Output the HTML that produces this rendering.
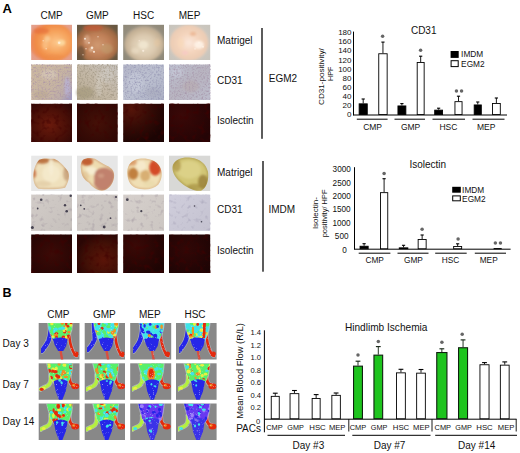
<!DOCTYPE html>
<html><head><meta charset="utf-8"><style>
html,body{margin:0;padding:0;background:#fff;}
body{width:520px;height:453px;overflow:hidden;}
svg{display:block;font-family:"Liberation Sans", sans-serif;}
</style></head><body>
<svg width="520" height="453" viewBox="0 0 520 453">
<defs>
<filter id="blur1" x="-20%" y="-20%" width="140%" height="140%"><feGaussianBlur stdDeviation="1.2"/></filter>
<filter id="mb" x="-20%" y="-20%" width="140%" height="140%"><feGaussianBlur stdDeviation="0.55"/></filter>
<filter id="tm" x="0" y="0" width="100%" height="100%"><feTurbulence type="fractalNoise" baseFrequency="0.3" numOctaves="2" seed="3"/><feColorMatrix type="matrix" values="0 0 0 0 1  0 0 0 0 0.95  0 0 0 0 0.85  1.5 0 0 0 -0.92"/><feGaussianBlur stdDeviation="0.6"/></filter>
<filter id="ti" x="0" y="0" width="100%" height="100%"><feTurbulence type="fractalNoise" baseFrequency="0.2" numOctaves="2" seed="7"/><feColorMatrix type="matrix" values="0 0 0 0 0.05  0 0 0 0 0  0 0 0 0 0  2.0 0 0 0 -1.0"/></filter>
<filter id="blur03" x="-20%" y="-20%" width="140%" height="140%"><feGaussianBlur stdDeviation="0.4"/></filter>
<filter id="md" x="-10%" y="-10%" width="120%" height="120%"><feTurbulence type="fractalNoise" baseFrequency="0.35" numOctaves="1" seed="4" result="t"/><feDisplacementMap in="SourceGraphic" in2="t" scale="1.8" xChannelSelector="R" yChannelSelector="G" result="d"/><feGaussianBlur in="d" stdDeviation="0.6"/></filter>
<filter id="mbb" x="-10%" y="-10%" width="120%" height="120%"><feGaussianBlur stdDeviation="0.55"/></filter>
<filter id="tc0" x="0" y="0" width="100%" height="100%"><feTurbulence type="fractalNoise" baseFrequency="0.55" numOctaves="2" seed="11"/><feColorMatrix type="matrix" values="0 0 0 0 0.42  0 0 0 0 0.3  0 0 0 0 0.38  2.2 0 0 0 -1.0"/><feGaussianBlur stdDeviation="0.35"/></filter>
<filter id="tc1" x="0" y="0" width="100%" height="100%"><feTurbulence type="fractalNoise" baseFrequency="0.55" numOctaves="2" seed="12"/><feColorMatrix type="matrix" values="0 0 0 0 0.35  0 0 0 0 0.3  0 0 0 0 0.22  2.2 0 0 0 -1.0"/><feGaussianBlur stdDeviation="0.35"/></filter>
<filter id="tc2" x="0" y="0" width="100%" height="100%"><feTurbulence type="fractalNoise" baseFrequency="0.55" numOctaves="2" seed="13"/><feColorMatrix type="matrix" values="0 0 0 0 0.3  0 0 0 0 0.3  0 0 0 0 0.45  2.2 0 0 0 -1.0"/><feGaussianBlur stdDeviation="0.35"/></filter>
<filter id="tc3" x="0" y="0" width="100%" height="100%"><feTurbulence type="fractalNoise" baseFrequency="0.55" numOctaves="2" seed="14"/><feColorMatrix type="matrix" values="0 0 0 0 0.38  0 0 0 0 0.3  0 0 0 0 0.4  2.2 0 0 0 -1.0"/><feGaussianBlur stdDeviation="0.35"/></filter>
<filter id="tc4" x="0" y="0" width="100%" height="100%"><feTurbulence type="fractalNoise" baseFrequency="0.22" numOctaves="2" seed="15"/><feColorMatrix type="matrix" values="0 0 0 0 0.3  0 0 0 0 0.25  0 0 0 0 0.3  1.3 0 0 0 -0.72"/><feGaussianBlur stdDeviation="0.35"/></filter>
<filter id="tc5" x="0" y="0" width="100%" height="100%"><feTurbulence type="fractalNoise" baseFrequency="0.22" numOctaves="2" seed="16"/><feColorMatrix type="matrix" values="0 0 0 0 0.3  0 0 0 0 0.25  0 0 0 0 0.3  1.3 0 0 0 -0.72"/><feGaussianBlur stdDeviation="0.35"/></filter>
<filter id="tc6" x="0" y="0" width="100%" height="100%"><feTurbulence type="fractalNoise" baseFrequency="0.22" numOctaves="2" seed="17"/><feColorMatrix type="matrix" values="0 0 0 0 0.3  0 0 0 0 0.25  0 0 0 0 0.3  1.3 0 0 0 -0.72"/><feGaussianBlur stdDeviation="0.35"/></filter>
<filter id="tc7" x="0" y="0" width="100%" height="100%"><feTurbulence type="fractalNoise" baseFrequency="0.22" numOctaves="2" seed="18"/><feColorMatrix type="matrix" values="0 0 0 0 0.3  0 0 0 0 0.28  0 0 0 0 0.4  1.3 0 0 0 -0.72"/><feGaussianBlur stdDeviation="0.35"/></filter>
<filter id="mn" x="0" y="0" width="100%" height="100%"><feTurbulence type="fractalNoise" baseFrequency="0.9" numOctaves="1" seed="9" result="t"/><feColorMatrix in="t" type="matrix" values="0 0 0 0 0.9  0 0 0 0 0.95  0 0 0 0 1  2.0 0 0 0 -1.3" result="w"/><feComposite in="w" in2="SourceAlpha" operator="in" result="wn"/><feMerge><feMergeNode in="SourceGraphic"/><feMergeNode in="wn"/></feMerge></filter>
<filter id="blur05" x="-20%" y="-20%" width="140%" height="140%"><feGaussianBlur stdDeviation="0.6"/></filter>
<radialGradient id="m1" cx="50%" cy="50%" r="70%"><stop offset="0" stop-color="#e89a7c"/><stop offset="1" stop-color="#e4a08c"/></radialGradient>
<radialGradient id="m2" cx="50%" cy="50%" r="70%"><stop offset="0" stop-color="#7e6448"/><stop offset="1" stop-color="#665640"/></radialGradient>
<radialGradient id="m3" cx="50%" cy="50%" r="70%"><stop offset="0" stop-color="#a49c8c"/><stop offset="1" stop-color="#8e8878"/></radialGradient>
<radialGradient id="m4" cx="50%" cy="50%" r="70%"><stop offset="0" stop-color="#d4cec6"/><stop offset="1" stop-color="#c8c4bc"/></radialGradient>
<radialGradient id="p1" cx="60%" cy="50%" r="55%"><stop offset="0" stop-color="#fcc68a"/><stop offset="0.5" stop-color="#f6a45e"/><stop offset="0.85" stop-color="#f08a46"/><stop offset="1" stop-color="#ec8a5a"/></radialGradient>
<radialGradient id="p2" cx="50%" cy="55%" r="55%"><stop offset="0" stop-color="#d09a72"/><stop offset="0.5" stop-color="#c08058"/><stop offset="0.85" stop-color="#a06a44"/><stop offset="1" stop-color="#7e5c40"/></radialGradient>
<radialGradient id="p3" cx="50%" cy="55%" r="55%"><stop offset="0" stop-color="#e8dcc4"/><stop offset="0.5" stop-color="#dccab0"/><stop offset="0.85" stop-color="#c4b094"/><stop offset="1" stop-color="#aca090"/></radialGradient>
<radialGradient id="p4" cx="50%" cy="50%" r="55%"><stop offset="0" stop-color="#fbe8dc"/><stop offset="0.5" stop-color="#f4d4bc"/><stop offset="0.85" stop-color="#ecccb4"/><stop offset="1" stop-color="#dcd0c6"/></radialGradient>
<linearGradient id="c1" x1="0" y1="0.2" x2="1" y2="0.8"><stop offset="0" stop-color="#ccb8a0"/><stop offset="0.6" stop-color="#c6b4a2"/><stop offset="0.85" stop-color="#bcaca8"/><stop offset="1" stop-color="#a49cbc"/></linearGradient>
<linearGradient id="c2" x1="0" y1="1" x2="1" y2="0"><stop offset="0" stop-color="#b4a890"/><stop offset="0.5" stop-color="#c4b8a6"/><stop offset="1" stop-color="#c4c0bc"/></linearGradient>
<linearGradient id="c3" x1="0" y1="0" x2="1" y2="1"><stop offset="0" stop-color="#b4b6c8"/><stop offset="0.5" stop-color="#bcc0d0"/><stop offset="1" stop-color="#acb0c4"/></linearGradient>
<linearGradient id="c4" x1="0" y1="0" x2="1" y2="1"><stop offset="0" stop-color="#bcc0d0"/><stop offset="0.5" stop-color="#b8b4c0"/><stop offset="1" stop-color="#bcbccc"/></linearGradient>
<radialGradient id="i1" cx="45%" cy="55%" r="70%"><stop offset="0" stop-color="#6a1a0c"/><stop offset="0.6" stop-color="#4a0f07"/><stop offset="1" stop-color="#320806"/></radialGradient>
<radialGradient id="i2" cx="50%" cy="50%" r="70%"><stop offset="0" stop-color="#451007"/><stop offset="1" stop-color="#2c0704"/></radialGradient>
<radialGradient id="i3" cx="20%" cy="15%" r="90%"><stop offset="0" stop-color="#551409"/><stop offset="0.6" stop-color="#300a05"/><stop offset="1" stop-color="#1c0403"/></radialGradient>
<radialGradient id="i4" cx="30%" cy="30%" r="80%"><stop offset="0" stop-color="#3a0807"/><stop offset="1" stop-color="#240405"/></radialGradient>
<radialGradient id="j1" cx="50%" cy="50%" r="70%"><stop offset="0" stop-color="#3c0a06"/><stop offset="1" stop-color="#240504"/></radialGradient>
<radialGradient id="j2" cx="65%" cy="65%" r="70%"><stop offset="0" stop-color="#5a1408"/><stop offset="0.6" stop-color="#421006"/><stop offset="1" stop-color="#2a0604"/></radialGradient>
<radialGradient id="j3" cx="30%" cy="30%" r="80%"><stop offset="0" stop-color="#3a0906"/><stop offset="1" stop-color="#1e0403"/></radialGradient>
<radialGradient id="j4" cx="40%" cy="40%" r="80%"><stop offset="0" stop-color="#320706"/><stop offset="1" stop-color="#1c0404"/></radialGradient>
<linearGradient id="d1" x1="0" y1="0" x2="1" y2="1"><stop offset="0" stop-color="#d2ccc8"/><stop offset="1" stop-color="#c6c0bc"/></linearGradient>
<linearGradient id="d2" x1="0" y1="0" x2="1" y2="1"><stop offset="0" stop-color="#d0cac6"/><stop offset="1" stop-color="#c8c2be"/></linearGradient>
<linearGradient id="d3" x1="0" y1="0" x2="1" y2="1"><stop offset="0" stop-color="#d6d0cc"/><stop offset="1" stop-color="#ccc6c2"/></linearGradient>
<linearGradient id="d4" x1="0" y1="0" x2="1" y2="1"><stop offset="0" stop-color="#d0cedc"/><stop offset="1" stop-color="#c4c2d0"/></linearGradient>
<clipPath id="mc_0"><rect x="0" y="0" width="40.80" height="35.2"/></clipPath>
<clipPath id="mc_1"><rect x="0" y="0" width="40.70" height="35.2"/></clipPath>
<clipPath id="mc_2"><rect x="0" y="0" width="40.80" height="35.2"/></clipPath>
<clipPath id="mc_3"><rect x="0" y="0" width="41.20" height="35.2"/></clipPath>
<clipPath id="bc0"><path d="M8,4 C12,2 18,3 23,3 C28,5 33,10 37,16 C39,21 37,27 34,32 C26,34 16,34 7,33 C4,31 2,26 2,21 C2,15 4,8 8,4 Z"/></clipPath>
<clipPath id="bc1"><path d="M6,4 C9,2 14,2 18,3 C22,5 25,8 30,10 C35,12 38,16 37,22 C36,28 32,34 25,35 C20,35 15,31 12,27 C8,25 4,20 4,14 C3,10 4,6 6,4 Z"/></clipPath>
<clipPath id="bc2"><path d="M4,16 C4,9 9,4 16,3 C24,2 32,4 36,10 C40,16 39,24 35,29 C30,34 20,35 12,32 C6,29 4,23 4,16 Z"/></clipPath>
<clipPath id="bc3"><path d="M4,9 C7,3 14,1 22,2 C31,3 37,8 39,16 C40,24 38,32 32,35 C26,36 18,32 12,27 C6,22 2,15 4,9 Z"/></clipPath>
</defs>
<rect x="31.2" y="24.8" width="40.80" height="35.20" fill="url(#m1)" />
<rect x="77.0" y="24.8" width="40.70" height="35.20" fill="url(#m2)" />
<rect x="123.2" y="24.8" width="40.80" height="35.20" fill="url(#m3)" />
<rect x="169.0" y="24.8" width="41.20" height="35.20" fill="url(#m4)" />
<rect x="31.2" y="64.5" width="40.80" height="35.50" fill="url(#c1)" />
<rect x="77.0" y="64.5" width="40.70" height="35.50" fill="url(#c2)" />
<rect x="123.2" y="64.5" width="40.80" height="35.50" fill="url(#c3)" />
<rect x="169.0" y="64.5" width="41.20" height="35.50" fill="url(#c4)" />
<rect x="31.2" y="103.8" width="40.80" height="38.20" fill="url(#i1)" />
<rect x="77.0" y="103.8" width="40.70" height="38.20" fill="url(#i2)" />
<rect x="123.2" y="103.8" width="40.80" height="38.20" fill="url(#i3)" />
<rect x="169.0" y="103.8" width="41.20" height="38.20" fill="url(#i4)" />
<rect x="31.2" y="155.7" width="40.80" height="35.30" fill="#e8e8e8" />
<rect x="77.0" y="155.7" width="40.70" height="35.30" fill="#e6e6e6" />
<rect x="123.2" y="155.7" width="40.80" height="35.30" fill="#f2f2f0" />
<rect x="169.0" y="155.7" width="41.20" height="35.30" fill="#d8d8d6" />
<rect x="31.2" y="194.6" width="40.80" height="36.20" fill="url(#d1)" />
<rect x="77.0" y="194.6" width="40.70" height="36.20" fill="url(#d2)" />
<rect x="123.2" y="194.6" width="40.80" height="36.20" fill="url(#d3)" />
<rect x="169.0" y="194.6" width="41.20" height="36.20" fill="url(#d4)" />
<rect x="31.2" y="234.5" width="40.80" height="38.50" fill="url(#j1)" />
<rect x="77.0" y="234.5" width="40.70" height="38.50" fill="url(#j2)" />
<rect x="123.2" y="234.5" width="40.80" height="38.50" fill="url(#j3)" />
<rect x="169.0" y="234.5" width="41.20" height="38.50" fill="url(#j4)" />
<g transform="translate(31.2,24.8)" clip-path="url(#mc_0)">
<ellipse cx="20.5" cy="17.5" rx="22.5" ry="19.5" fill="url(#p1)" filter="url(#blur1)"/>
<g filter="url(#blur1)">
<ellipse cx="30" cy="18" rx="4" ry="3" fill="#fde0a8" opacity="0.8"/>
<ellipse cx="14" cy="20" rx="3" ry="5" fill="#fcc890" opacity="0.6"/>
<ellipse cx="10" cy="6" rx="8" ry="3" fill="#e46a36" opacity="0.6"/>
<ellipse cx="22" cy="32" rx="10" ry="2.5" fill="#ee8c48" opacity="0.5"/>
<ellipse cx="16" cy="14" rx="3" ry="3" fill="#fcd8a8" opacity="0.6"/>
</g></g>
<g transform="translate(77.0,24.8)" clip-path="url(#mc_1)">
<ellipse cx="20.5" cy="18.5" rx="22" ry="19.5" fill="url(#p2)" filter="url(#blur1)"/>
<g filter="url(#blur1)">
<ellipse cx="10" cy="15" rx="3" ry="5" fill="#e0b494" opacity="0.6"/>
<ellipse cx="14" cy="25" rx="2" ry="1.5" fill="#f4dcc0" opacity="0.7"/>
<ellipse cx="16" cy="3" rx="10" ry="3" fill="#c05a38" opacity="0.8"/>
<ellipse cx="30" cy="24" rx="6" ry="5" fill="#c0a070" opacity="0.5"/>
<ellipse cx="4" cy="28" rx="4" ry="7" fill="#6a4e38" opacity="0.7"/>
</g></g>
<g transform="translate(123.2,24.8)" clip-path="url(#mc_2)">
<ellipse cx="21" cy="19" rx="20" ry="18" fill="url(#p3)" filter="url(#blur1)"/>
<g filter="url(#blur1)">
<ellipse cx="20" cy="20" rx="5" ry="4" fill="#f4ead4" opacity="0.7"/>
<ellipse cx="34" cy="18" rx="3" ry="4" fill="#e8c8a0" opacity="0.5"/>
<ellipse cx="12" cy="26" rx="4" ry="3" fill="#f0e4cc" opacity="0.5"/>
</g></g>
<g transform="translate(169.0,24.8)" clip-path="url(#mc_3)">
<ellipse cx="20" cy="18" rx="19.5" ry="18" fill="url(#p4)" filter="url(#blur1)"/>
<g filter="url(#blur1)">
<ellipse cx="30" cy="20" rx="5" ry="4" fill="#fff4ea" opacity="0.85"/>
<ellipse cx="16" cy="28" rx="3" ry="2" fill="#f8c8c8" opacity="0.7"/>
<ellipse cx="24" cy="9" rx="3" ry="2" fill="#e8a880" opacity="0.6"/>
<ellipse cx="12" cy="18" rx="3" ry="5" fill="#f8d8b8" opacity="0.6"/>
</g></g>
<g filter="url(#blur1)">
<ellipse cx="67.2" cy="86.5" rx="3" ry="10" fill="#b8b0d0" opacity="0.9"/>
<ellipse cx="49.2" cy="74.5" rx="8" ry="5" fill="#d8ccbc" opacity="0.6"/>
<ellipse cx="41.2" cy="94.5" rx="8" ry="4" fill="#b8a690" opacity="0.5"/>
<ellipse cx="85.0" cy="92.5" rx="9" ry="6" fill="#a49878" opacity="0.6"/>
<ellipse cx="107.0" cy="74.5" rx="6" ry="8" fill="#d0ccc4" opacity="0.6"/>
<ellipse cx="99.0" cy="84.5" rx="3" ry="12" fill="#d6d0c6" opacity="0.5"/>
<ellipse cx="135.2" cy="82.5" rx="8" ry="10" fill="#c8ccda" opacity="0.6"/>
<ellipse cx="153.2" cy="92.5" rx="8" ry="5" fill="#a8aabc" opacity="0.5"/>
<ellipse cx="191.0" cy="86.5" rx="8" ry="6" fill="#b8a8ac" opacity="0.5"/>
<ellipse cx="177.0" cy="72.5" rx="6" ry="5" fill="#c8cad8" opacity="0.6"/>
</g>
<g filter="url(#blur03)">
<circle cx="85" cy="38.8" r="1.0" fill="#fff4e8" opacity="0.8"/>
<circle cx="89" cy="42.8" r="0.9" fill="#fff4e8" opacity="0.7"/>
<circle cx="92" cy="47.8" r="1.3" fill="#fff4e8" opacity="0.85"/>
<circle cx="94" cy="51.8" r="1.1" fill="#fff4e8" opacity="0.8"/>
<circle cx="86" cy="48.8" r="0.8" fill="#fff4e8" opacity="0.6"/>
<circle cx="98" cy="36.8" r="0.8" fill="#fff4e8" opacity="0.5"/>
<circle cx="103" cy="44.8" r="0.8" fill="#fff4e8" opacity="0.5"/>
<circle cx="83" cy="54.8" r="0.8" fill="#fff4e8" opacity="0.5"/>
<circle cx="59.2" cy="42.8" r="1.3" fill="#fff4e8" opacity="0.8"/>
<circle cx="43.2" cy="40.8" r="0.8" fill="#fff4e8" opacity="0.5"/>
<circle cx="46.2" cy="48.8" r="0.8" fill="#fff4e8" opacity="0.5"/>
<circle cx="143.2" cy="50.8" r="1.1" fill="#fff4e8" opacity="0.7"/>
<circle cx="139.2" cy="40.8" r="0.8" fill="#fff4e8" opacity="0.5"/>
<circle cx="199" cy="42.8" r="1.0" fill="#fff4e8" opacity="0.7"/>
<circle cx="203" cy="46.8" r="1.0" fill="#fff4e8" opacity="0.7"/>
<circle cx="195" cy="48.8" r="0.9" fill="#fff4e8" opacity="0.6"/>
</g>
<rect x="31.2" y="64.5" width="40.80" height="35.50" fill="#000" filter="url(#tc0)"/>
<rect x="31.2" y="103.8" width="40.80" height="38.20" fill="#000" filter="url(#ti)"/>
<rect x="31.2" y="194.6" width="40.80" height="36.20" fill="#000" filter="url(#tc4)"/>
<rect x="31.2" y="234.5" width="40.80" height="38.50" fill="#000" filter="url(#ti)"/>
<rect x="77.0" y="64.5" width="40.70" height="35.50" fill="#000" filter="url(#tc1)"/>
<rect x="77.0" y="103.8" width="40.70" height="38.20" fill="#000" filter="url(#ti)"/>
<rect x="77.0" y="194.6" width="40.70" height="36.20" fill="#000" filter="url(#tc5)"/>
<rect x="77.0" y="234.5" width="40.70" height="38.50" fill="#000" filter="url(#ti)"/>
<rect x="123.2" y="64.5" width="40.80" height="35.50" fill="#000" filter="url(#tc2)"/>
<rect x="123.2" y="103.8" width="40.80" height="38.20" fill="#000" filter="url(#ti)"/>
<rect x="123.2" y="194.6" width="40.80" height="36.20" fill="#000" filter="url(#tc6)"/>
<rect x="123.2" y="234.5" width="40.80" height="38.50" fill="#000" filter="url(#ti)"/>
<rect x="169.0" y="64.5" width="41.20" height="35.50" fill="#000" filter="url(#tc3)"/>
<rect x="169.0" y="103.8" width="41.20" height="38.20" fill="#000" filter="url(#ti)"/>
<rect x="169.0" y="194.6" width="41.20" height="36.20" fill="#000" filter="url(#tc7)"/>
<rect x="169.0" y="234.5" width="41.20" height="38.50" fill="#000" filter="url(#ti)"/>
<g transform="translate(31.2,155.7)">
<path d="M8,4 C12,2 18,3 23,3 C28,5 33,10 37,16 C39,21 37,27 34,32 C26,34 16,34 7,33 C4,31 2,26 2,21 C2,15 4,8 8,4 Z" fill="#efe0bc" filter="url(#blur03)"/>
<g clip-path="url(#bc0)"><g filter="url(#blur1)">
<ellipse cx="11" cy="5" rx="7" ry="3" fill="#b86a38" opacity="0.9"/>
<ellipse cx="26" cy="4" rx="5" ry="2" fill="#c88a58" opacity="0.6"/>
<ellipse cx="3" cy="18" rx="2" ry="4" fill="#c86a40" opacity="0.8"/>
<ellipse cx="20" cy="18" rx="9" ry="9" fill="#f6ecd0" opacity="0.7"/>
<ellipse cx="35" cy="18" rx="3" ry="7" fill="#b88860" opacity="0.6"/>
<ellipse cx="12" cy="28" rx="8" ry="3" fill="#e0c8a0" opacity="0.6"/>
<ellipse cx="20" cy="12" rx="2" ry="8" fill="#f8f0d8" opacity="0.6"/>
<path d="M8,4 C12,2 18,3 23,3 C28,5 33,10 37,16 C39,21 37,27 34,32 C26,34 16,34 7,33 C4,31 2,26 2,21 C2,15 4,8 8,4 Z" fill="none" stroke="#b07040" stroke-width="1.6" opacity="0.55"/>
</g></g></g>
<g transform="translate(77.0,155.7)">
<path d="M6,4 C9,2 14,2 18,3 C22,5 25,8 30,10 C35,12 38,16 37,22 C36,28 32,34 25,35 C20,35 15,31 12,27 C8,25 4,20 4,14 C3,10 4,6 6,4 Z" fill="#eedcb0" filter="url(#blur03)"/>
<g clip-path="url(#bc1)"><g filter="url(#blur1)">
<ellipse cx="10" cy="6" rx="6" ry="4" fill="#c0582a" opacity="0.95"/>
<ellipse cx="14" cy="15" rx="6" ry="4" fill="#f8f0d8" opacity="0.8"/>
<ellipse cx="8" cy="20" rx="4" ry="5" fill="#e0c090" opacity="0.6"/>
<path d="M19,15 C24,11 31,11 36,16 C39,22 35,30 29,34 C24,36 19,33 17,28 C18,25 16,20 19,15 Z" fill="#b87260" opacity="0.85"/>
<ellipse cx="24" cy="20" rx="3" ry="2" fill="#d8a890" opacity="0.6"/>
<path d="M6,4 C9,2 14,2 18,3 C22,5 25,8 30,10 C35,12 38,16 37,22 C36,28 32,34 25,35 C20,35 15,31 12,27 C8,25 4,20 4,14 C3,10 4,6 6,4 Z" fill="none" stroke="#b06848" stroke-width="1.6" opacity="0.55"/>
</g></g></g>
<g transform="translate(123.2,155.7)">
<path d="M4,16 C4,9 9,4 16,3 C24,2 32,4 36,10 C40,16 39,24 35,29 C30,34 20,35 12,32 C6,29 4,23 4,16 Z" fill="#f0dfb4" filter="url(#blur03)"/>
<g clip-path="url(#bc2)"><g filter="url(#blur1)">
<ellipse cx="32" cy="12" rx="6" ry="8" fill="#d03a18" opacity="0.9"/>
<ellipse cx="10" cy="18" rx="5" ry="6" fill="#b8702c" opacity="0.85"/>
<ellipse cx="22" cy="20" rx="5" ry="6" fill="#c89048" opacity="0.6"/>
<ellipse cx="9" cy="7" rx="5" ry="3" fill="#d89058" opacity="0.7"/>
<ellipse cx="18" cy="10" rx="5" ry="5" fill="#f8ecd0" opacity="0.8"/>
<ellipse cx="26" cy="28" rx="6" ry="3" fill="#e8d8a8" opacity="0.6"/>
<path d="M4,16 C4,9 9,4 16,3 C24,2 32,4 36,10 C40,16 39,24 35,29 C30,34 20,35 12,32 C6,29 4,23 4,16 Z" fill="none" stroke="#c08050" stroke-width="1.6" opacity="0.55"/>
</g></g></g>
<g transform="translate(169.0,155.7)">
<path d="M4,9 C7,3 14,1 22,2 C31,3 37,8 39,16 C40,24 38,32 32,35 C26,36 18,32 12,27 C6,22 2,15 4,9 Z" fill="#d2c676" filter="url(#blur03)"/>
<g clip-path="url(#bc3)"><g filter="url(#blur1)">
<ellipse cx="20" cy="14" rx="12" ry="9" fill="#e0d68e" opacity="0.7"/>
<ellipse cx="34" cy="26" rx="5" ry="7" fill="#8e7430" opacity="0.7"/>
<ellipse cx="8" cy="10" rx="4" ry="6" fill="#a88c3c" opacity="0.6"/>
<ellipse cx="26" cy="31" rx="8" ry="3" fill="#a08838" opacity="0.6"/>
<path d="M4,9 C7,3 14,1 22,2 C31,3 37,8 39,16 C40,24 38,32 32,35 C26,36 18,32 12,27 C6,22 2,15 4,9 Z" fill="none" stroke="#8a7430" stroke-width="1.6" opacity="0.55"/>
</g></g></g>
<g filter="url(#blur03)">
<circle cx="41.2" cy="199.7" r="1.3" fill="#2e2c3c" opacity="0.85"/>
<circle cx="37.7" cy="208.5" r="0.9" fill="#2e2c3c" opacity="0.85"/>
<circle cx="65.0" cy="205.29999999999998" r="1.2" fill="#2e2c3c" opacity="0.85"/>
<circle cx="66.7" cy="211.2" r="1.3" fill="#2e2c3c" opacity="0.85"/>
<circle cx="70.7" cy="195.79999999999998" r="1.2" fill="#2e2c3c" opacity="0.85"/>
<circle cx="32.4" cy="227.6" r="1.5" fill="#2e2c3c" opacity="0.85"/>
<circle cx="80.75" cy="205.29999999999998" r="0.9" fill="#2e2c3c" opacity="0.85"/>
<circle cx="84.25" cy="208.79999999999998" r="0.9" fill="#2e2c3c" opacity="0.85"/>
<circle cx="110.5" cy="218.2" r="0.9" fill="#2e2c3c" opacity="0.85"/>
<circle cx="104.2" cy="227.0" r="1.4" fill="#2e2c3c" opacity="0.85"/>
<circle cx="116.0" cy="197.0" r="1.1" fill="#2e2c3c" opacity="0.85"/>
<circle cx="127.3" cy="199.7" r="1.4" fill="#2e2c3c" opacity="0.85"/>
<circle cx="141.3" cy="211.2" r="1.1" fill="#2e2c3c" opacity="0.85"/>
<circle cx="194.5" cy="206.0" r="0.8" fill="#2e2c3c" opacity="0.85"/>
<circle cx="201.5" cy="221.7" r="0.8" fill="#2e2c3c" opacity="0.85"/>
</g>
<text x="2.4" y="12.9" font-size="13" text-anchor="start" font-weight="bold" fill="#000" >A</text>
<text x="51.6" y="18.8" font-size="10" text-anchor="middle" font-weight="normal" fill="#111" >CMP</text>
<text x="97.35" y="18.8" font-size="10" text-anchor="middle" font-weight="normal" fill="#111" >GMP</text>
<text x="143.6" y="18.8" font-size="10" text-anchor="middle" font-weight="normal" fill="#111" >HSC</text>
<text x="189.6" y="18.8" font-size="10" text-anchor="middle" font-weight="normal" fill="#111" >MEP</text>
<text x="217" y="44.4" font-size="10" text-anchor="start" font-weight="normal" fill="#111" >Matrigel</text>
<text x="217" y="83.8" font-size="10" text-anchor="start" font-weight="normal" fill="#111" >CD31</text>
<text x="217" y="123.9" font-size="10" text-anchor="start" font-weight="normal" fill="#111" >Isolectin</text>
<text x="217" y="176.3" font-size="10" text-anchor="start" font-weight="normal" fill="#111" >Matrigel</text>
<text x="217" y="213.0" font-size="10" text-anchor="start" font-weight="normal" fill="#111" >CD31</text>
<text x="217" y="253.8" font-size="10" text-anchor="start" font-weight="normal" fill="#111" >Isolectin</text>
<text x="268.8" y="81.7" font-size="10" text-anchor="start" font-weight="normal" fill="#111" >EGM2</text>
<text x="268.5" y="213.0" font-size="10" text-anchor="start" font-weight="normal" fill="#111" >IMDM</text>
<rect x="261" y="28" width="2" height="110.8" fill="#5c5c5c"/>
<rect x="262" y="161" width="2" height="110.7" fill="#5c5c5c"/>
<line x1="353.5" y1="31.6" x2="353.5" y2="115.5" stroke="#000" stroke-width="1"/>
<line x1="353.5" y1="115.0" x2="507" y2="115.0" stroke="#000" stroke-width="1.2"/>
<text x="351.5" y="117.2" font-size="8.0" text-anchor="end" font-weight="normal" fill="#111" >0</text>
<text x="351.5" y="108.08800000000001" font-size="8.0" text-anchor="end" font-weight="normal" fill="#111" >20</text>
<text x="351.5" y="98.976" font-size="8.0" text-anchor="end" font-weight="normal" fill="#111" >40</text>
<text x="351.5" y="89.864" font-size="8.0" text-anchor="end" font-weight="normal" fill="#111" >60</text>
<text x="351.5" y="80.752" font-size="8.0" text-anchor="end" font-weight="normal" fill="#111" >80</text>
<text x="351.5" y="71.64" font-size="8.0" text-anchor="end" font-weight="normal" fill="#111" >100</text>
<text x="351.5" y="62.528000000000006" font-size="8.0" text-anchor="end" font-weight="normal" fill="#111" >120</text>
<text x="351.5" y="53.416000000000004" font-size="8.0" text-anchor="end" font-weight="normal" fill="#111" >140</text>
<text x="351.5" y="44.304" font-size="8.0" text-anchor="end" font-weight="normal" fill="#111" >160</text>
<text x="351.5" y="35.19200000000001" font-size="8.0" text-anchor="end" font-weight="normal" fill="#111" >180</text>
<line x1="363.2" y1="103.4" x2="363.2" y2="99.0" stroke="#000" stroke-width="0.9"/>
<line x1="361.59999999999997" y1="99.0" x2="364.8" y2="99.0" stroke="#000" stroke-width="1.1"/>
<rect x="359.15" y="103.85000000000001" width="8.10" height="10.70" fill="#000" stroke="#000" stroke-width="0.9"/>
<line x1="382.95000000000005" y1="53.3" x2="382.95000000000005" y2="42.1" stroke="#000" stroke-width="0.9"/>
<line x1="381.35" y1="42.1" x2="384.55000000000007" y2="42.1" stroke="#000" stroke-width="1.1"/>
<rect x="378.75" y="53.75" width="8.40" height="60.80" fill="#fff" stroke="#000" stroke-width="0.9"/>
<line x1="401.9" y1="105.5" x2="401.9" y2="103.6" stroke="#000" stroke-width="0.9"/>
<line x1="400.29999999999995" y1="103.6" x2="403.5" y2="103.6" stroke="#000" stroke-width="1.1"/>
<rect x="397.95" y="105.95" width="7.90" height="8.60" fill="#000" stroke="#000" stroke-width="0.9"/>
<line x1="420.675" y1="62.0" x2="420.675" y2="56.2" stroke="#000" stroke-width="0.9"/>
<line x1="419.075" y1="56.2" x2="422.27500000000003" y2="56.2" stroke="#000" stroke-width="1.1"/>
<rect x="417.2" y="62.45" width="6.95" height="52.10" fill="#fff" stroke="#000" stroke-width="0.9"/>
<line x1="438.625" y1="109.7" x2="438.625" y2="108.2" stroke="#000" stroke-width="0.9"/>
<line x1="437.025" y1="108.2" x2="440.225" y2="108.2" stroke="#000" stroke-width="1.1"/>
<rect x="434.7" y="110.15" width="7.85" height="4.40" fill="#000" stroke="#000" stroke-width="0.9"/>
<line x1="458.5" y1="101.2" x2="458.5" y2="96.2" stroke="#000" stroke-width="0.9"/>
<line x1="456.9" y1="96.2" x2="460.1" y2="96.2" stroke="#000" stroke-width="1.1"/>
<rect x="454.95" y="101.65" width="7.10" height="12.90" fill="#fff" stroke="#000" stroke-width="0.9"/>
<line x1="477.75" y1="104.5" x2="477.75" y2="102.0" stroke="#000" stroke-width="0.9"/>
<line x1="476.15" y1="102.0" x2="479.35" y2="102.0" stroke="#000" stroke-width="1.1"/>
<rect x="474.2" y="104.95" width="7.10" height="9.60" fill="#000" stroke="#000" stroke-width="0.9"/>
<line x1="496.375" y1="103.0" x2="496.375" y2="98.0" stroke="#000" stroke-width="0.9"/>
<line x1="494.775" y1="98.0" x2="497.975" y2="98.0" stroke="#000" stroke-width="1.1"/>
<rect x="492.45" y="103.45" width="7.85" height="11.10" fill="#fff" stroke="#000" stroke-width="0.9"/>
<circle cx="382.6" cy="36.3" r="1.75" fill="#666" filter="url(#blur03)"/>
<circle cx="420.6" cy="50.2" r="1.75" fill="#666" filter="url(#blur03)"/>
<circle cx="456.45" cy="90.9" r="1.75" fill="#666" filter="url(#blur03)"/>
<circle cx="461.55" cy="90.9" r="1.75" fill="#666" filter="url(#blur03)"/>
<line x1="356.8" y1="119.2" x2="387.6" y2="119.2" stroke="#000" stroke-width="1"/>
<line x1="394.5" y1="119.2" x2="425" y2="119.2" stroke="#000" stroke-width="1"/>
<line x1="432.5" y1="119.2" x2="465" y2="119.2" stroke="#000" stroke-width="1"/>
<line x1="472.5" y1="119.2" x2="504.5" y2="119.2" stroke="#000" stroke-width="1"/>
<text x="372.6" y="129.6" font-size="8.5" text-anchor="middle" font-weight="normal" fill="#111" >CMP</text>
<text x="410.6" y="129.6" font-size="8.5" text-anchor="middle" font-weight="normal" fill="#111" >GMP</text>
<text x="448.4" y="129.6" font-size="8.5" text-anchor="middle" font-weight="normal" fill="#111" >HSC</text>
<text x="486.2" y="129.6" font-size="8.5" text-anchor="middle" font-weight="normal" fill="#111" >MEP</text>
<text x="423.7" y="33.8" font-size="10" text-anchor="middle" font-weight="normal" fill="#111" >CD31</text>
<rect x="450.6" y="51" width="8.1" height="6.9" fill="#000"/>
<rect x="451.1" y="60.7" width="7.1" height="5.9" fill="#fff" stroke="#000" stroke-width="1"/>
<text x="461.1" y="57.0" font-size="8.3" text-anchor="start" font-weight="normal" fill="#111" >IMDM</text>
<text x="461.1" y="67.0" font-size="8.3" text-anchor="start" font-weight="normal" fill="#111" >EGM2</text>
<text transform="translate(324.0,76.6) rotate(-90)" font-size="8.1" text-anchor="middle" fill="#111">CD31-positivity/</text>
<text transform="translate(333.2,73.8) rotate(-90)" font-size="7.2" text-anchor="middle" fill="#111">HPF</text>
<line x1="354.5" y1="167.2" x2="354.5" y2="249.7" stroke="#000" stroke-width="1"/>
<line x1="354.5" y1="249.2" x2="510.6" y2="249.2" stroke="#000" stroke-width="1"/>
<text x="346.9" y="252.85" font-size="8.2" text-anchor="end" font-weight="normal" fill="#111" >0</text>
<text x="348.5" y="239.385" font-size="8.2" text-anchor="end" font-weight="normal" fill="#111" >500</text>
<text x="350.6" y="225.92" font-size="8.2" text-anchor="end" font-weight="normal" fill="#111" >1000</text>
<text x="350.6" y="212.45499999999998" font-size="8.2" text-anchor="end" font-weight="normal" fill="#111" >1500</text>
<text x="350.8" y="198.99" font-size="8.2" text-anchor="end" font-weight="normal" fill="#111" >2000</text>
<text x="350.8" y="185.52499999999998" font-size="8.2" text-anchor="end" font-weight="normal" fill="#111" >2500</text>
<text x="350.8" y="172.06" font-size="8.2" text-anchor="end" font-weight="normal" fill="#111" >3000</text>
<line x1="364.1" y1="245.8" x2="364.1" y2="243.7" stroke="#000" stroke-width="0.9"/>
<line x1="362.5" y1="243.7" x2="365.70000000000005" y2="243.7" stroke="#000" stroke-width="1.1"/>
<rect x="360.05" y="246.25" width="8.10" height="2.50" fill="#000" stroke="#000" stroke-width="0.9"/>
<line x1="384.1" y1="192.2" x2="384.1" y2="178.7" stroke="#000" stroke-width="0.9"/>
<line x1="382.5" y1="178.7" x2="385.70000000000005" y2="178.7" stroke="#000" stroke-width="1.1"/>
<rect x="380.45" y="192.64999999999998" width="7.30" height="56.10" fill="#fff" stroke="#000" stroke-width="0.9"/>
<line x1="403.55" y1="247.4" x2="403.55" y2="245.3" stroke="#000" stroke-width="0.9"/>
<line x1="401.95" y1="245.3" x2="405.15000000000003" y2="245.3" stroke="#000" stroke-width="1.1"/>
<rect x="399.25" y="247.85" width="8.60" height="0.90" fill="#000" stroke="#000" stroke-width="0.9"/>
<line x1="422.15" y1="239.0" x2="422.15" y2="235.0" stroke="#000" stroke-width="0.9"/>
<line x1="420.54999999999995" y1="235.0" x2="423.75" y2="235.0" stroke="#000" stroke-width="1.1"/>
<rect x="418.15" y="239.45" width="8.00" height="9.30" fill="#fff" stroke="#000" stroke-width="0.9"/>
<rect x="436.95" y="249.25" width="7.60" height="0.00" fill="#000" stroke="#000" stroke-width="0.9"/>
<line x1="457.65" y1="246.0" x2="457.65" y2="243.8" stroke="#000" stroke-width="0.9"/>
<line x1="456.04999999999995" y1="243.8" x2="459.25" y2="243.8" stroke="#000" stroke-width="1.1"/>
<rect x="453.65" y="246.45" width="8.00" height="2.30" fill="#fff" stroke="#000" stroke-width="0.9"/>
<rect x="475.95" y="249.35" width="7.60" height="0.00" fill="#000" stroke="#000" stroke-width="0.9"/>
<rect x="494.05" y="248.54999999999998" width="7.20" height="0.20" fill="#000" stroke="#000" stroke-width="0.9"/>
<circle cx="384.1" cy="173.4" r="1.75" fill="#666" filter="url(#blur03)"/>
<circle cx="422.1" cy="229.2" r="1.75" fill="#666" filter="url(#blur03)"/>
<circle cx="458.1" cy="239.0" r="1.75" fill="#666" filter="url(#blur03)"/>
<circle cx="495.34999999999997" cy="242.9" r="1.75" fill="#666" filter="url(#blur03)"/>
<circle cx="500.45" cy="242.9" r="1.75" fill="#666" filter="url(#blur03)"/>
<line x1="358.7" y1="253.2" x2="390.4" y2="253.2" stroke="#000" stroke-width="1"/>
<line x1="397.5" y1="253.2" x2="428.5" y2="253.2" stroke="#000" stroke-width="1"/>
<line x1="435.2" y1="253.2" x2="466.7" y2="253.2" stroke="#000" stroke-width="1"/>
<line x1="474.8" y1="253.2" x2="506.0" y2="253.2" stroke="#000" stroke-width="1"/>
<text x="374.7" y="263.3" font-size="8.3" text-anchor="middle" font-weight="normal" fill="#111" >CMP</text>
<text x="413.4" y="263.3" font-size="8.3" text-anchor="middle" font-weight="normal" fill="#111" >GMP</text>
<text x="450.6" y="263.3" font-size="8.3" text-anchor="middle" font-weight="normal" fill="#111" >HSC</text>
<text x="488.7" y="263.3" font-size="8.3" text-anchor="middle" font-weight="normal" fill="#111" >MEP</text>
<text x="427.8" y="168.0" font-size="10" text-anchor="middle" font-weight="normal" fill="#111" >Isolectin</text>
<rect x="452.2" y="186.8" width="8.6" height="5.9" fill="#000"/>
<rect x="452.7" y="195.9" width="7.6" height="4.9" fill="#fff" stroke="#000" stroke-width="1"/>
<text x="462.1" y="192.8" font-size="8.3" text-anchor="start" font-weight="normal" fill="#111" >IMDM</text>
<text x="462.1" y="201.5" font-size="8.3" text-anchor="start" font-weight="normal" fill="#111" >EGM2</text>
<text transform="translate(318.2,213.1) rotate(-90)" font-size="8" text-anchor="middle" fill="#111">Isolectin-</text>
<text transform="translate(326.6,213.4) rotate(-90)" font-size="7.5" text-anchor="middle" fill="#111">positivity/ HPF</text>
<text x="2.6" y="297.4" font-size="12.5" text-anchor="start" font-weight="bold" fill="#000" >B</text>
<text x="58.4" y="317.8" font-size="10" text-anchor="middle" font-weight="normal" fill="#111" >CMP</text>
<text x="104.3" y="317.8" font-size="10" text-anchor="middle" font-weight="normal" fill="#111" >GMP</text>
<text x="149.8" y="317.8" font-size="10" text-anchor="middle" font-weight="normal" fill="#111" >MEP</text>
<text x="195.0" y="317.8" font-size="10" text-anchor="middle" font-weight="normal" fill="#111" >HSC</text>
<text x="2.6" y="347.2" font-size="10" text-anchor="start" font-weight="normal" fill="#111" >Day 3</text>
<text x="2.6" y="387.9" font-size="10" text-anchor="start" font-weight="normal" fill="#111" >Day 7</text>
<text x="2.6" y="425.0" font-size="10" text-anchor="start" font-weight="normal" fill="#111" >Day 14</text>
<clipPath id="mc0"><rect x="0" y="0" width="40.8" height="36.5"/></clipPath>
<clipPath id="mc0b"><path d="M9,0 L34,0 L33,7 L31,13 L28,19 L15,19 L12,12 L10,6 Z"/></clipPath>
<g transform="translate(38.7,323.0)">
<rect x="0" y="0" width="40.8" height="36.5" fill="#888888"/>
<g clip-path="url(#mc0)"><g filter="url(#mn)"><g filter="url(#md)">
<path d="M12,3 Q12,15 8,21 T3,28" fill="none" stroke="#d8e4f4" stroke-width="5.7" stroke-opacity="0.45" stroke-linecap="round"/>
<path d="M12,3 Q12,15 8,21 T3,28" fill="none" stroke="#2626e8" stroke-width="4.4" stroke-linecap="round"/>
<path d="M30,1 Q30,17 33,25 T38,33" fill="none" stroke="#d8e4f4" stroke-width="3.9" stroke-opacity="0.45" stroke-linecap="round"/>
<path d="M30,1 Q30,17 33,25 T38,33" fill="none" stroke="#e42a10" stroke-width="2.6" stroke-linecap="round"/>
<ellipse cx="37" cy="31" rx="2.8" ry="2.4" fill="#e42a10"/>
<path d="M21.5,26 L23.5,37" stroke="#d85040" stroke-width="2.4"/>
<path d="M9,0 L34,0 L33,7 L31,13 L28,19 L15,19 L12,12 L10,6 Z" fill="#58f06a" stroke="#d8e4f4" stroke-opacity="0.45" stroke-width="1.2"/>
<g clip-path="url(#mc0b)"><g filter="url(#mbb)"><ellipse cx="24.8" cy="14.8" rx="2.1" ry="2.2" fill="#e42a10"/><ellipse cx="32.9" cy="0.6" rx="1.7" ry="2.2" fill="#e42a10"/><ellipse cx="32.3" cy="2.3" rx="1.7" ry="1.4" fill="#e8f040"/><ellipse cx="23.5" cy="0.3" rx="1.4" ry="1.4" fill="#f09020"/><ellipse cx="28.7" cy="3.2" rx="2.1" ry="1.3" fill="#e42a10"/><ellipse cx="11.4" cy="0.0" rx="2.1" ry="1.4" fill="#58f06a"/><ellipse cx="34.5" cy="17.4" rx="1.4" ry="2.3" fill="#e8f040"/><ellipse cx="26.3" cy="4.1" rx="2.2" ry="1.9" fill="#f09020"/><ellipse cx="32.1" cy="6.0" rx="1.5" ry="1.3" fill="#58f06a"/><ellipse cx="9.8" cy="6.0" rx="1.8" ry="1.1" fill="#e42a10"/><ellipse cx="17.1" cy="6.2" rx="2.1" ry="1.7" fill="#40e4e8"/><ellipse cx="21.0" cy="14.1" rx="1.2" ry="2.3" fill="#58f06a"/><ellipse cx="28.2" cy="16.9" rx="1.1" ry="2.0" fill="#40e4e8"/><ellipse cx="23.6" cy="0.2" rx="1.2" ry="1.3" fill="#f09020"/><ellipse cx="13.3" cy="15.1" rx="2.2" ry="2.2" fill="#40e4e8"/><ellipse cx="17.6" cy="10.5" rx="2.0" ry="1.2" fill="#e42a10"/><ellipse cx="29.5" cy="17.2" rx="1.1" ry="2.2" fill="#58f06a"/><ellipse cx="17.2" cy="12.2" rx="2.2" ry="1.5" fill="#f09020"/><ellipse cx="22.7" cy="6.2" rx="1.5" ry="1.3" fill="#58f06a"/><ellipse cx="12.0" cy="13.8" rx="2.3" ry="1.3" fill="#58f06a"/><ellipse cx="34.6" cy="10.7" rx="1.6" ry="1.4" fill="#e8f040"/><ellipse cx="30.3" cy="9.1" rx="1.6" ry="1.2" fill="#f09020"/><ellipse cx="8.9" cy="9.9" rx="2.1" ry="1.3" fill="#e42a10"/><ellipse cx="33.6" cy="12.6" rx="2.0" ry="1.2" fill="#40e4e8"/><ellipse cx="12.0" cy="16.9" rx="1.5" ry="1.6" fill="#f09020"/><ellipse cx="31.0" cy="19.5" rx="1.6" ry="1.7" fill="#e42a10"/><ellipse cx="20.9" cy="5.8" rx="1.6" ry="1.3" fill="#40e4e8"/><ellipse cx="34.7" cy="19.2" rx="1.9" ry="1.7" fill="#40e4e8"/><ellipse cx="10.4" cy="5.4" rx="2.0" ry="2.1" fill="#40e4e8"/><ellipse cx="29.2" cy="15.5" rx="1.9" ry="1.9" fill="#e42a10"/><ellipse cx="17.8" cy="14.1" rx="1.4" ry="1.7" fill="#e42a10"/><ellipse cx="26.7" cy="5.9" rx="2.2" ry="1.9" fill="#e8f040"/><ellipse cx="8.3" cy="10.9" rx="1.4" ry="1.9" fill="#e8f040"/><ellipse cx="30.1" cy="12.9" rx="2.1" ry="1.5" fill="#e42a10"/><ellipse cx="27.9" cy="16.6" rx="1.5" ry="2.1" fill="#f09020"/><ellipse cx="26.6" cy="19.5" rx="2.2" ry="1.7" fill="#e8f040"/><ellipse cx="12.5" cy="16.7" rx="2.2" ry="1.7" fill="#e42a10"/><ellipse cx="27.4" cy="14.6" rx="1.3" ry="2.0" fill="#e8f040"/><ellipse cx="26.0" cy="8.4" rx="1.8" ry="2.0" fill="#e42a10"/><ellipse cx="27.5" cy="0.6" rx="1.3" ry="1.6" fill="#e42a10"/><ellipse cx="13.9" cy="13.7" rx="1.9" ry="1.2" fill="#e8f040"/><ellipse cx="14.1" cy="1.1" rx="1.3" ry="1.5" fill="#58f06a"/><ellipse cx="13.2" cy="0.7" rx="1.7" ry="1.6" fill="#e8f040"/><ellipse cx="23.9" cy="4.8" rx="2.2" ry="1.1" fill="#40e4e8"/><ellipse cx="15.5" cy="8.2" rx="1.2" ry="2.1" fill="#40e4e8"/><ellipse cx="9.0" cy="12.3" rx="1.2" ry="1.8" fill="#40e4e8"/><ellipse cx="23.7" cy="19.2" rx="2.1" ry="1.6" fill="#e42a10"/><ellipse cx="25.3" cy="7.4" rx="1.3" ry="1.8" fill="#e8f040"/><ellipse cx="33.8" cy="19.4" rx="1.8" ry="1.5" fill="#f09020"/><ellipse cx="8.0" cy="2.2" rx="1.8" ry="1.8" fill="#58f06a"/><ellipse cx="25.0" cy="17.8" rx="1.6" ry="1.6" fill="#58f06a"/><ellipse cx="15.9" cy="19.4" rx="1.6" ry="2.3" fill="#f09020"/><ellipse cx="24.1" cy="5.2" rx="2.3" ry="1.7" fill="#40e4e8"/><ellipse cx="16.6" cy="19.7" rx="1.7" ry="1.4" fill="#e8f040"/><ellipse cx="11.3" cy="12.4" rx="1.6" ry="1.5" fill="#e42a10"/></g></g>
<path d="M14,16 Q22,13 29,16 L27.5,23 L24.5,28 L19.5,28 L16,22 Z" fill="#2626e8"/>
</g></g></g></g>
<clipPath id="mc1"><rect x="0" y="0" width="40.3" height="36.5"/></clipPath>
<clipPath id="mc1b"><path d="M9,0 L34,0 L33,7 L31,13 L28,19 L15,19 L12,12 L10,6 Z"/></clipPath>
<g transform="translate(84.7,323.0)">
<rect x="0" y="0" width="40.3" height="36.5" fill="#888888"/>
<g clip-path="url(#mc1)"><g filter="url(#mn)"><g filter="url(#md)">
<path d="M9,0 L10,16 Q8,22 3,27" fill="none" stroke="#d8e4f4" stroke-width="5.5" stroke-opacity="0.45" stroke-linecap="round"/>
<path d="M9,0 L10,16 Q8,22 3,27" fill="none" stroke="#2626e8" stroke-width="4.2" stroke-linecap="round"/>
<path d="M30,1 Q30,17 33,25 T38,33" fill="none" stroke="#d8e4f4" stroke-width="3.9" stroke-opacity="0.45" stroke-linecap="round"/>
<path d="M30,1 Q30,17 33,25 T38,33" fill="none" stroke="#e42a10" stroke-width="2.6" stroke-linecap="round"/>
<ellipse cx="37" cy="31" rx="2.8" ry="2.4" fill="#e42a10"/>
<path d="M21.5,26 L23.5,37" stroke="#d85040" stroke-width="2.4"/>
<path d="M9,0 L34,0 L33,7 L31,13 L28,19 L15,19 L12,12 L10,6 Z" fill="#40e4e8" stroke="#d8e4f4" stroke-opacity="0.45" stroke-width="1.2"/>
<g clip-path="url(#mc1b)"><g filter="url(#mbb)"><ellipse cx="14.1" cy="19.2" rx="1.3" ry="1.9" fill="#58f06a"/><ellipse cx="14.7" cy="20.0" rx="1.4" ry="1.9" fill="#40e4e8"/><ellipse cx="20.2" cy="9.9" rx="1.3" ry="2.1" fill="#58f06a"/><ellipse cx="14.3" cy="0.4" rx="1.4" ry="1.6" fill="#e42a10"/><ellipse cx="18.2" cy="2.3" rx="1.4" ry="2.3" fill="#58f06a"/><ellipse cx="24.7" cy="7.5" rx="1.9" ry="1.5" fill="#e8f040"/><ellipse cx="21.4" cy="13.0" rx="2.2" ry="1.8" fill="#58f06a"/><ellipse cx="9.7" cy="18.9" rx="1.7" ry="1.3" fill="#f09020"/><ellipse cx="23.6" cy="14.6" rx="2.2" ry="1.4" fill="#58f06a"/><ellipse cx="31.7" cy="2.7" rx="2.0" ry="1.2" fill="#e8f040"/><ellipse cx="27.0" cy="19.0" rx="2.1" ry="1.7" fill="#58f06a"/><ellipse cx="12.1" cy="10.6" rx="1.7" ry="1.2" fill="#e42a10"/><ellipse cx="21.7" cy="14.0" rx="1.4" ry="1.4" fill="#58f06a"/><ellipse cx="17.3" cy="5.3" rx="1.6" ry="1.6" fill="#e42a10"/><ellipse cx="32.1" cy="3.5" rx="1.6" ry="1.3" fill="#e8f040"/><ellipse cx="34.3" cy="4.0" rx="2.0" ry="1.5" fill="#58f06a"/><ellipse cx="28.6" cy="6.8" rx="1.3" ry="1.6" fill="#58f06a"/><ellipse cx="19.1" cy="8.9" rx="1.6" ry="1.8" fill="#58f06a"/><ellipse cx="10.6" cy="1.7" rx="1.2" ry="1.7" fill="#58f06a"/><ellipse cx="29.8" cy="10.1" rx="1.9" ry="2.3" fill="#58f06a"/><ellipse cx="8.5" cy="2.8" rx="1.6" ry="1.8" fill="#e8f040"/><ellipse cx="17.5" cy="19.3" rx="1.1" ry="2.1" fill="#58f06a"/><ellipse cx="31.6" cy="0.7" rx="2.3" ry="2.0" fill="#f09020"/><ellipse cx="23.7" cy="3.6" rx="2.3" ry="1.6" fill="#58f06a"/><ellipse cx="24.3" cy="9.9" rx="1.7" ry="1.3" fill="#58f06a"/><ellipse cx="23.7" cy="9.1" rx="1.3" ry="1.6" fill="#e8f040"/><ellipse cx="27.3" cy="9.4" rx="1.6" ry="1.5" fill="#58f06a"/><ellipse cx="13.3" cy="8.9" rx="1.2" ry="2.0" fill="#e8f040"/><ellipse cx="24.5" cy="0.5" rx="1.5" ry="1.6" fill="#58f06a"/><ellipse cx="34.1" cy="15.1" rx="1.7" ry="1.9" fill="#58f06a"/><ellipse cx="14.2" cy="10.5" rx="2.0" ry="1.9" fill="#58f06a"/><ellipse cx="24.6" cy="18.2" rx="2.0" ry="2.2" fill="#f09020"/><ellipse cx="14.0" cy="5.9" rx="1.8" ry="2.3" fill="#40e4e8"/><ellipse cx="33.4" cy="17.0" rx="1.7" ry="1.9" fill="#f09020"/><ellipse cx="29.1" cy="5.9" rx="2.1" ry="1.3" fill="#40e4e8"/><ellipse cx="33.9" cy="16.9" rx="1.5" ry="1.4" fill="#40e4e8"/><ellipse cx="30.8" cy="13.7" rx="2.2" ry="2.0" fill="#e42a10"/><ellipse cx="24.3" cy="7.2" rx="1.6" ry="1.7" fill="#40e4e8"/><ellipse cx="30.6" cy="5.4" rx="1.2" ry="2.0" fill="#58f06a"/><ellipse cx="19.3" cy="2.3" rx="2.1" ry="1.4" fill="#58f06a"/><ellipse cx="29.7" cy="10.1" rx="1.4" ry="2.2" fill="#40e4e8"/><ellipse cx="17.8" cy="19.3" rx="2.0" ry="2.0" fill="#58f06a"/><ellipse cx="30.0" cy="11.9" rx="2.1" ry="1.5" fill="#e8f040"/><ellipse cx="29.4" cy="7.8" rx="1.9" ry="2.0" fill="#f09020"/><ellipse cx="32.9" cy="15.7" rx="1.3" ry="1.8" fill="#e8f040"/><ellipse cx="10.4" cy="9.3" rx="2.1" ry="2.2" fill="#f09020"/><ellipse cx="10.5" cy="12.1" rx="2.1" ry="1.9" fill="#58f06a"/><ellipse cx="9.0" cy="18.4" rx="2.1" ry="1.9" fill="#40e4e8"/><ellipse cx="30.4" cy="16.3" rx="2.0" ry="1.8" fill="#58f06a"/><ellipse cx="16.0" cy="7.1" rx="1.5" ry="1.7" fill="#58f06a"/><ellipse cx="27.5" cy="7.0" rx="1.3" ry="1.4" fill="#40e4e8"/><ellipse cx="19.6" cy="15.6" rx="1.2" ry="1.4" fill="#58f06a"/><ellipse cx="12.8" cy="15.0" rx="1.2" ry="1.2" fill="#40e4e8"/><ellipse cx="27.9" cy="16.5" rx="1.8" ry="1.5" fill="#e42a10"/><ellipse cx="27.9" cy="9.6" rx="1.8" ry="2.2" fill="#f09020"/></g></g>
<path d="M14,16 Q22,13 29,16 L27.5,23 L24.5,28 L19.5,28 L16,22 Z" fill="#2626e8"/>
</g></g></g></g>
<clipPath id="mc2"><rect x="0" y="0" width="41.0" height="36.5"/></clipPath>
<clipPath id="mc2b"><path d="M9,0 L34,0 L33,7 L31,13 L28,19 L15,19 L12,12 L10,6 Z"/></clipPath>
<g transform="translate(130.2,323.0)">
<rect x="0" y="0" width="41.0" height="36.5" fill="#888888"/>
<g clip-path="url(#mc2)"><g filter="url(#mn)"><g filter="url(#md)">
<path d="M12,3 Q12,15 8,21 T3,28" fill="none" stroke="#d8e4f4" stroke-width="5.7" stroke-opacity="0.45" stroke-linecap="round"/>
<path d="M12,3 Q12,15 8,21 T3,28" fill="none" stroke="#2626e8" stroke-width="4.4" stroke-linecap="round"/>
<path d="M30,1 Q30,17 33,25 T38,33" fill="none" stroke="#d8e4f4" stroke-width="3.9" stroke-opacity="0.45" stroke-linecap="round"/>
<path d="M30,1 Q30,17 33,25 T38,33" fill="none" stroke="#e42a10" stroke-width="2.6" stroke-linecap="round"/>
<ellipse cx="37" cy="31" rx="2.8" ry="2.4" fill="#e42a10"/>
<path d="M21.5,26 L23.5,37" stroke="#d85040" stroke-width="2.4"/>
<path d="M9,0 L34,0 L33,7 L31,13 L28,19 L15,19 L12,12 L10,6 Z" fill="#40e4e8" stroke="#d8e4f4" stroke-opacity="0.45" stroke-width="1.2"/>
<g clip-path="url(#mc2b)"><g filter="url(#mbb)"><ellipse cx="20.2" cy="11.2" rx="2.2" ry="1.7" fill="#2626e8"/><ellipse cx="23.9" cy="3.7" rx="1.7" ry="1.9" fill="#58f06a"/><ellipse cx="10.5" cy="6.1" rx="1.2" ry="2.1" fill="#2626e8"/><ellipse cx="9.1" cy="19.6" rx="2.3" ry="1.9" fill="#2626e8"/><ellipse cx="12.3" cy="0.3" rx="1.7" ry="1.2" fill="#40e4e8"/><ellipse cx="14.5" cy="0.6" rx="1.7" ry="1.6" fill="#f09020"/><ellipse cx="22.0" cy="12.8" rx="1.7" ry="1.9" fill="#2626e8"/><ellipse cx="15.5" cy="20.0" rx="2.3" ry="2.1" fill="#58f06a"/><ellipse cx="16.5" cy="4.6" rx="1.4" ry="1.2" fill="#58f06a"/><ellipse cx="18.8" cy="16.9" rx="1.6" ry="2.2" fill="#f09020"/><ellipse cx="8.0" cy="4.2" rx="2.2" ry="1.7" fill="#f09020"/><ellipse cx="18.7" cy="1.5" rx="1.9" ry="2.0" fill="#40e4e8"/><ellipse cx="10.4" cy="6.7" rx="2.3" ry="2.0" fill="#40e4e8"/><ellipse cx="14.7" cy="2.0" rx="1.2" ry="2.1" fill="#40e4e8"/><ellipse cx="23.1" cy="8.9" rx="1.3" ry="2.0" fill="#40e4e8"/><ellipse cx="25.4" cy="2.3" rx="1.6" ry="1.4" fill="#40e4e8"/><ellipse cx="34.2" cy="16.1" rx="1.5" ry="2.2" fill="#40e4e8"/><ellipse cx="18.6" cy="17.1" rx="1.9" ry="1.2" fill="#f09020"/><ellipse cx="13.8" cy="5.2" rx="2.0" ry="1.5" fill="#40e4e8"/><ellipse cx="10.0" cy="1.8" rx="1.8" ry="1.4" fill="#2626e8"/><ellipse cx="18.0" cy="9.1" rx="2.3" ry="1.7" fill="#2626e8"/><ellipse cx="31.4" cy="3.7" rx="1.3" ry="2.2" fill="#f09020"/><ellipse cx="14.7" cy="3.8" rx="2.0" ry="2.2" fill="#40e4e8"/><ellipse cx="33.7" cy="17.6" rx="1.8" ry="1.6" fill="#40e4e8"/><ellipse cx="9.0" cy="19.3" rx="1.4" ry="1.9" fill="#40e4e8"/><ellipse cx="30.2" cy="11.9" rx="1.5" ry="1.3" fill="#58f06a"/><ellipse cx="9.9" cy="4.6" rx="1.8" ry="2.1" fill="#2626e8"/><ellipse cx="15.6" cy="18.3" rx="1.3" ry="1.1" fill="#40e4e8"/><ellipse cx="20.0" cy="1.2" rx="1.3" ry="1.5" fill="#2626e8"/><ellipse cx="11.6" cy="7.2" rx="2.2" ry="2.3" fill="#2626e8"/><ellipse cx="26.7" cy="11.7" rx="1.3" ry="1.1" fill="#40e4e8"/><ellipse cx="32.6" cy="14.0" rx="2.3" ry="1.1" fill="#2626e8"/><ellipse cx="21.0" cy="14.6" rx="1.5" ry="2.3" fill="#40e4e8"/><ellipse cx="22.7" cy="14.7" rx="2.2" ry="2.0" fill="#58f06a"/><ellipse cx="29.4" cy="18.3" rx="1.5" ry="1.9" fill="#f09020"/><ellipse cx="31.5" cy="8.3" rx="2.0" ry="2.1" fill="#2626e8"/><ellipse cx="24.9" cy="7.6" rx="1.8" ry="1.8" fill="#40e4e8"/><ellipse cx="25.3" cy="19.9" rx="2.2" ry="2.0" fill="#2626e8"/><ellipse cx="27.8" cy="11.6" rx="1.6" ry="2.1" fill="#40e4e8"/><ellipse cx="28.3" cy="0.6" rx="1.8" ry="1.7" fill="#40e4e8"/><ellipse cx="26.9" cy="9.9" rx="1.8" ry="2.2" fill="#40e4e8"/><ellipse cx="8.3" cy="6.0" rx="1.9" ry="1.3" fill="#40e4e8"/><ellipse cx="32.5" cy="13.2" rx="1.6" ry="2.2" fill="#2626e8"/><ellipse cx="26.0" cy="4.0" rx="1.6" ry="2.1" fill="#f09020"/><ellipse cx="31.8" cy="7.7" rx="1.8" ry="1.5" fill="#40e4e8"/><ellipse cx="21.4" cy="16.7" rx="2.1" ry="2.0" fill="#f09020"/><ellipse cx="15.5" cy="3.4" rx="1.6" ry="1.4" fill="#40e4e8"/><ellipse cx="19.2" cy="12.5" rx="1.7" ry="1.5" fill="#f09020"/><ellipse cx="34.5" cy="9.0" rx="1.2" ry="1.1" fill="#f09020"/><ellipse cx="9.1" cy="14.2" rx="1.8" ry="1.5" fill="#58f06a"/><ellipse cx="8.5" cy="2.7" rx="1.6" ry="1.1" fill="#f09020"/><ellipse cx="14.4" cy="2.8" rx="1.2" ry="1.9" fill="#2626e8"/><ellipse cx="25.0" cy="13.1" rx="2.1" ry="2.3" fill="#2626e8"/><ellipse cx="13.4" cy="9.5" rx="1.3" ry="1.1" fill="#2626e8"/><ellipse cx="27.3" cy="3.6" rx="1.4" ry="1.5" fill="#2626e8"/></g></g>
<path d="M14,16 Q22,13 29,16 L27.5,23 L24.5,28 L19.5,28 L16,22 Z" fill="#2626e8"/>
</g></g></g></g>
<clipPath id="mc3"><rect x="0" y="0" width="40.6" height="36.5"/></clipPath>
<clipPath id="mc3b"><path d="M9,0 L34,0 L33,7 L31,13 L28,19 L15,19 L12,12 L10,6 Z"/></clipPath>
<g transform="translate(176.0,323.0)">
<rect x="0" y="0" width="40.6" height="36.5" fill="#888888"/>
<g clip-path="url(#mc3)"><g filter="url(#mn)"><g filter="url(#md)">
<path d="M12,3 Q12,15 8,21 T3,28" fill="none" stroke="#d8e4f4" stroke-width="5.7" stroke-opacity="0.45" stroke-linecap="round"/>
<path d="M12,3 Q12,15 8,21 T3,28" fill="none" stroke="#2626e8" stroke-width="4.4" stroke-linecap="round"/>
<path d="M30,1 Q30,17 33,25 T38,33" fill="none" stroke="#d8e4f4" stroke-width="3.9" stroke-opacity="0.45" stroke-linecap="round"/>
<path d="M30,1 Q30,17 33,25 T38,33" fill="none" stroke="#e42a10" stroke-width="2.6" stroke-linecap="round"/>
<ellipse cx="37" cy="31" rx="2.8" ry="2.4" fill="#e42a10"/>
<path d="M21.5,26 L23.5,37" stroke="#d85040" stroke-width="2.4"/>
<path d="M9,0 L34,0 L33,7 L31,13 L28,19 L15,19 L12,12 L10,6 Z" fill="#40e4e8" stroke="#d8e4f4" stroke-opacity="0.45" stroke-width="1.2"/>
<g clip-path="url(#mc3b)"><g filter="url(#mbb)"><ellipse cx="10.9" cy="14.1" rx="1.9" ry="2.2" fill="#40e4e8"/><ellipse cx="14.9" cy="14.7" rx="1.9" ry="1.5" fill="#e8f040"/><ellipse cx="18.7" cy="15.6" rx="1.2" ry="1.4" fill="#e42a10"/><ellipse cx="17.7" cy="5.2" rx="2.1" ry="1.9" fill="#40e4e8"/><ellipse cx="22.9" cy="13.3" rx="1.3" ry="1.9" fill="#40e4e8"/><ellipse cx="17.1" cy="1.7" rx="1.3" ry="2.3" fill="#58f06a"/><ellipse cx="34.7" cy="8.8" rx="1.8" ry="2.1" fill="#e8f040"/><ellipse cx="11.0" cy="11.8" rx="1.9" ry="1.3" fill="#40e4e8"/><ellipse cx="31.6" cy="10.3" rx="1.3" ry="1.6" fill="#40e4e8"/><ellipse cx="29.6" cy="10.0" rx="1.2" ry="2.1" fill="#40e4e8"/><ellipse cx="15.6" cy="0.6" rx="2.0" ry="1.2" fill="#58f06a"/><ellipse cx="10.5" cy="9.6" rx="1.9" ry="1.7" fill="#58f06a"/><ellipse cx="21.1" cy="8.7" rx="1.8" ry="1.2" fill="#58f06a"/><ellipse cx="14.4" cy="17.3" rx="2.2" ry="1.2" fill="#40e4e8"/><ellipse cx="27.0" cy="11.4" rx="1.1" ry="1.9" fill="#f09020"/><ellipse cx="19.4" cy="6.9" rx="1.8" ry="2.2" fill="#40e4e8"/><ellipse cx="16.2" cy="3.8" rx="1.9" ry="1.7" fill="#40e4e8"/><ellipse cx="18.5" cy="0.7" rx="1.5" ry="2.3" fill="#e8f040"/><ellipse cx="15.6" cy="18.7" rx="1.5" ry="1.4" fill="#40e4e8"/><ellipse cx="11.9" cy="4.0" rx="1.4" ry="2.1" fill="#40e4e8"/><ellipse cx="14.7" cy="12.1" rx="2.2" ry="1.4" fill="#e42a10"/><ellipse cx="18.0" cy="11.2" rx="1.8" ry="2.2" fill="#e42a10"/><ellipse cx="21.7" cy="16.8" rx="1.5" ry="1.6" fill="#f09020"/><ellipse cx="22.7" cy="15.5" rx="1.5" ry="2.2" fill="#e8f040"/><ellipse cx="14.7" cy="18.7" rx="1.7" ry="1.5" fill="#40e4e8"/><ellipse cx="10.8" cy="4.0" rx="1.9" ry="1.3" fill="#40e4e8"/><ellipse cx="20.1" cy="10.9" rx="1.6" ry="2.0" fill="#40e4e8"/><ellipse cx="18.0" cy="8.5" rx="1.3" ry="1.4" fill="#40e4e8"/><ellipse cx="27.6" cy="2.9" rx="1.9" ry="1.4" fill="#e8f040"/><ellipse cx="25.7" cy="7.1" rx="2.2" ry="1.9" fill="#e8f040"/><ellipse cx="9.2" cy="8.1" rx="1.4" ry="1.7" fill="#f09020"/><ellipse cx="31.3" cy="1.2" rx="1.9" ry="2.2" fill="#58f06a"/><ellipse cx="10.6" cy="17.3" rx="1.6" ry="2.3" fill="#e42a10"/><ellipse cx="30.4" cy="18.6" rx="1.2" ry="2.1" fill="#58f06a"/><ellipse cx="11.6" cy="7.6" rx="1.8" ry="1.1" fill="#58f06a"/><ellipse cx="29.2" cy="9.9" rx="1.7" ry="1.5" fill="#f09020"/><ellipse cx="14.7" cy="13.6" rx="1.9" ry="1.1" fill="#f09020"/><ellipse cx="14.4" cy="19.8" rx="2.2" ry="2.2" fill="#e42a10"/><ellipse cx="18.7" cy="8.9" rx="1.5" ry="2.2" fill="#40e4e8"/><ellipse cx="11.7" cy="19.1" rx="2.1" ry="1.9" fill="#f09020"/><ellipse cx="22.1" cy="16.7" rx="1.6" ry="2.2" fill="#40e4e8"/><ellipse cx="19.8" cy="11.5" rx="2.1" ry="1.6" fill="#e8f040"/><ellipse cx="34.1" cy="8.4" rx="1.3" ry="1.1" fill="#e42a10"/><ellipse cx="20.9" cy="7.8" rx="1.7" ry="1.2" fill="#40e4e8"/><ellipse cx="14.4" cy="5.1" rx="2.1" ry="1.4" fill="#40e4e8"/><ellipse cx="31.4" cy="11.2" rx="1.1" ry="1.9" fill="#e8f040"/><ellipse cx="25.5" cy="15.5" rx="1.6" ry="1.4" fill="#e42a10"/><ellipse cx="24.9" cy="14.1" rx="1.3" ry="1.5" fill="#e8f040"/><ellipse cx="18.4" cy="12.0" rx="1.7" ry="2.0" fill="#58f06a"/><ellipse cx="21.4" cy="16.6" rx="1.5" ry="1.3" fill="#e8f040"/><ellipse cx="11.6" cy="17.1" rx="1.4" ry="2.2" fill="#58f06a"/><ellipse cx="12.2" cy="10.4" rx="1.9" ry="1.7" fill="#e8f040"/><ellipse cx="18.0" cy="19.2" rx="1.3" ry="2.1" fill="#40e4e8"/><ellipse cx="21.7" cy="1.3" rx="1.3" ry="1.8" fill="#e42a10"/><ellipse cx="16.4" cy="8.1" rx="1.7" ry="1.8" fill="#58f06a"/></g></g>
<g clip-path="url(#mc3b)"><path d="M27,0 L30,0 L29,15 L27,15 Z" fill="#e42a10"/><path d="M16,4 L18,4 L18,14 L16,14 Z" fill="#f09020"/></g>
<path d="M14,16 Q22,13 29,16 L27.5,23 L24.5,28 L19.5,28 L16,22 Z" fill="#2626e8"/>
</g></g></g></g>
<clipPath id="mc4"><rect x="0" y="0" width="40.8" height="36.5"/></clipPath>
<clipPath id="mc4b"><path d="M8,0 L34,0 L33,9 L31,16 L27,21 L16,21 L12,15 L10,8 Z"/></clipPath>
<g transform="translate(38.7,363.3)">
<rect x="0" y="0" width="40.8" height="36.5" fill="#888888"/>
<g clip-path="url(#mc4)"><g filter="url(#mn)"><g filter="url(#md)">
<path d="M30,2 L31,17 Q32,22 37,22" fill="none" stroke="#d8e4f4" stroke-width="4.3" stroke-opacity="0.45" stroke-linecap="round"/>
<path d="M30,2 L31,17 Q32,22 37,22" fill="none" stroke="#e42a10" stroke-width="3.0" stroke-linecap="round"/>
<ellipse cx="36.5" cy="23" rx="4" ry="3" fill="#e42a10"/>
<ellipse cx="35" cy="22" rx="1.5" ry="1.2" fill="#f09020"/>
<path d="M12,12 Q13,21 8,23 T2,26" fill="none" stroke="#d8e4f4" stroke-width="4.9" stroke-opacity="0.45" stroke-linecap="round"/>
<path d="M12,12 Q13,21 8,23 T2,26" fill="none" stroke="#b4f040" stroke-width="3.6" stroke-linecap="round"/>
<ellipse cx="5" cy="25" rx="2" ry="1.5" fill="#e8f040"/>
<ellipse cx="3" cy="26" rx="2" ry="1.6" fill="#e42a10"/>
<path d="M8,0 L34,0 L33,9 L31,16 L27,21 L16,21 L12,15 L10,8 Z" fill="#58f06a" stroke="#d8e4f4" stroke-opacity="0.45" stroke-width="1.2"/>
<g clip-path="url(#mc4b)"><g filter="url(#mbb)"><ellipse cx="34.1" cy="0.3" rx="2.0" ry="1.3" fill="#40e4e8"/><ellipse cx="8.5" cy="19.3" rx="1.9" ry="2.1" fill="#40e4e8"/><ellipse cx="14.5" cy="7.4" rx="1.9" ry="1.4" fill="#e8f040"/><ellipse cx="14.2" cy="18.9" rx="2.1" ry="2.1" fill="#e8f040"/><ellipse cx="33.0" cy="11.3" rx="1.4" ry="1.6" fill="#e8f040"/><ellipse cx="10.1" cy="12.4" rx="1.5" ry="1.8" fill="#40e4e8"/><ellipse cx="25.4" cy="8.9" rx="2.1" ry="2.3" fill="#e42a10"/><ellipse cx="33.5" cy="0.4" rx="1.3" ry="1.3" fill="#40e4e8"/><ellipse cx="26.6" cy="15.8" rx="1.4" ry="1.7" fill="#40e4e8"/><ellipse cx="10.7" cy="2.6" rx="1.2" ry="1.7" fill="#f09020"/><ellipse cx="23.0" cy="8.8" rx="1.7" ry="1.3" fill="#40e4e8"/><ellipse cx="17.6" cy="5.2" rx="1.5" ry="2.1" fill="#e8f040"/><ellipse cx="32.4" cy="7.4" rx="1.6" ry="1.2" fill="#40e4e8"/><ellipse cx="29.5" cy="10.4" rx="1.2" ry="1.7" fill="#e8f040"/><ellipse cx="30.7" cy="20.4" rx="2.0" ry="1.4" fill="#58f06a"/><ellipse cx="32.1" cy="20.8" rx="1.3" ry="1.7" fill="#e42a10"/><ellipse cx="34.4" cy="0.9" rx="1.2" ry="2.1" fill="#e42a10"/><ellipse cx="20.5" cy="17.1" rx="1.8" ry="1.9" fill="#e8f040"/><ellipse cx="10.3" cy="0.2" rx="1.5" ry="1.9" fill="#e8f040"/><ellipse cx="17.4" cy="13.6" rx="1.9" ry="1.8" fill="#e8f040"/><ellipse cx="30.2" cy="17.6" rx="2.2" ry="2.2" fill="#58f06a"/><ellipse cx="26.1" cy="7.7" rx="1.6" ry="1.7" fill="#58f06a"/><ellipse cx="14.7" cy="21.7" rx="1.5" ry="2.2" fill="#e42a10"/><ellipse cx="16.5" cy="7.0" rx="1.8" ry="1.9" fill="#e8f040"/><ellipse cx="9.6" cy="3.8" rx="2.1" ry="2.0" fill="#58f06a"/><ellipse cx="30.5" cy="12.7" rx="1.5" ry="2.2" fill="#58f06a"/><ellipse cx="10.7" cy="7.6" rx="2.0" ry="1.8" fill="#e42a10"/><ellipse cx="32.5" cy="8.7" rx="2.0" ry="1.1" fill="#f09020"/><ellipse cx="12.2" cy="14.4" rx="2.1" ry="1.9" fill="#e42a10"/><ellipse cx="22.9" cy="16.5" rx="1.5" ry="1.4" fill="#e42a10"/><ellipse cx="22.0" cy="2.6" rx="1.7" ry="1.7" fill="#58f06a"/><ellipse cx="27.1" cy="17.1" rx="1.5" ry="2.1" fill="#40e4e8"/><ellipse cx="25.9" cy="9.0" rx="1.4" ry="1.3" fill="#e8f040"/><ellipse cx="35.0" cy="1.3" rx="2.2" ry="1.9" fill="#f09020"/><ellipse cx="10.7" cy="14.2" rx="1.3" ry="1.9" fill="#f09020"/><ellipse cx="27.5" cy="11.8" rx="2.2" ry="1.4" fill="#58f06a"/><ellipse cx="31.4" cy="1.2" rx="1.6" ry="1.6" fill="#40e4e8"/><ellipse cx="18.1" cy="12.5" rx="1.7" ry="1.7" fill="#e42a10"/><ellipse cx="20.6" cy="13.1" rx="1.6" ry="1.6" fill="#40e4e8"/><ellipse cx="34.4" cy="5.4" rx="2.2" ry="1.1" fill="#e8f040"/><ellipse cx="32.3" cy="3.7" rx="1.9" ry="2.3" fill="#e42a10"/><ellipse cx="20.4" cy="0.7" rx="1.6" ry="1.7" fill="#f09020"/><ellipse cx="18.5" cy="17.7" rx="1.6" ry="1.9" fill="#f09020"/><ellipse cx="12.5" cy="21.0" rx="1.6" ry="1.7" fill="#40e4e8"/><ellipse cx="23.4" cy="11.4" rx="1.4" ry="1.4" fill="#f09020"/><ellipse cx="21.7" cy="14.5" rx="1.9" ry="1.9" fill="#e8f040"/><ellipse cx="31.3" cy="9.9" rx="1.3" ry="2.1" fill="#40e4e8"/><ellipse cx="11.3" cy="19.5" rx="1.9" ry="1.4" fill="#e42a10"/><ellipse cx="32.9" cy="3.3" rx="1.9" ry="1.4" fill="#58f06a"/><ellipse cx="33.7" cy="21.9" rx="1.9" ry="2.1" fill="#e8f040"/><ellipse cx="19.6" cy="13.5" rx="2.1" ry="1.9" fill="#e42a10"/><ellipse cx="24.9" cy="8.9" rx="2.1" ry="2.1" fill="#f09020"/><ellipse cx="16.7" cy="8.4" rx="2.3" ry="1.6" fill="#e42a10"/><ellipse cx="10.6" cy="2.9" rx="1.4" ry="1.9" fill="#e8f040"/><ellipse cx="25.7" cy="1.6" rx="1.9" ry="1.9" fill="#e8f040"/><ellipse cx="14.4" cy="5.5" rx="1.7" ry="1.3" fill="#e8f040"/><ellipse cx="29.7" cy="20.6" rx="1.3" ry="1.7" fill="#e42a10"/><ellipse cx="33.6" cy="12.3" rx="1.7" ry="2.0" fill="#f09020"/><ellipse cx="27.2" cy="13.7" rx="2.1" ry="1.2" fill="#f09020"/><ellipse cx="14.0" cy="7.8" rx="1.6" ry="1.7" fill="#e42a10"/></g></g>
<path d="M15,18 Q22,14 29,18 L27,28 L23.5,37 L20.5,37 L17,28 Z" fill="#2626e8"/>
<ellipse cx="22.7" cy="19.2" rx="1.0" ry="1.2" fill="#40e4e8"/><ellipse cx="21.0" cy="17.1" rx="1.3" ry="1.3" fill="#40e4e8"/><ellipse cx="23.1" cy="19.9" rx="0.8" ry="1.4" fill="#40e4e8"/>
</g></g></g></g>
<clipPath id="mc5"><rect x="0" y="0" width="40.3" height="36.5"/></clipPath>
<clipPath id="mc5b"><path d="M8,0 L34,0 L33,9 L31,16 L27,21 L16,21 L12,15 L10,8 Z"/></clipPath>
<g transform="translate(84.7,363.3)">
<rect x="0" y="0" width="40.3" height="36.5" fill="#888888"/>
<g clip-path="url(#mc5)"><g filter="url(#mn)"><g filter="url(#md)">
<path d="M30,2 L31,17 Q32,22 37,22" fill="none" stroke="#d8e4f4" stroke-width="4.3" stroke-opacity="0.45" stroke-linecap="round"/>
<path d="M30,2 L31,17 Q32,22 37,22" fill="none" stroke="#e42a10" stroke-width="3.0" stroke-linecap="round"/>
<ellipse cx="36.5" cy="23" rx="4" ry="3" fill="#e42a10"/>
<ellipse cx="35" cy="22" rx="1.5" ry="1.2" fill="#f09020"/>
<path d="M12,12 Q13,21 8,23 T2,26" fill="none" stroke="#d8e4f4" stroke-width="4.9" stroke-opacity="0.45" stroke-linecap="round"/>
<path d="M12,12 Q13,21 8,23 T2,26" fill="none" stroke="#b4f040" stroke-width="3.6" stroke-linecap="round"/>
<ellipse cx="5" cy="25" rx="2" ry="1.5" fill="#e8f040"/>
<path d="M8,0 L34,0 L33,9 L31,16 L27,21 L16,21 L12,15 L10,8 Z" fill="#58f06a" stroke="#d8e4f4" stroke-opacity="0.45" stroke-width="1.2"/>
<g clip-path="url(#mc5b)"><g filter="url(#mbb)"><ellipse cx="12.9" cy="14.6" rx="1.5" ry="1.3" fill="#e42a10"/><ellipse cx="21.3" cy="10.6" rx="1.6" ry="1.4" fill="#e8f040"/><ellipse cx="26.7" cy="7.1" rx="1.9" ry="2.0" fill="#40e4e8"/><ellipse cx="33.5" cy="5.2" rx="1.4" ry="2.0" fill="#e42a10"/><ellipse cx="13.5" cy="14.9" rx="2.1" ry="2.1" fill="#58f06a"/><ellipse cx="16.1" cy="0.1" rx="2.3" ry="1.4" fill="#f09020"/><ellipse cx="22.5" cy="13.1" rx="1.7" ry="2.1" fill="#e42a10"/><ellipse cx="16.2" cy="2.5" rx="1.7" ry="2.2" fill="#58f06a"/><ellipse cx="26.5" cy="13.9" rx="1.3" ry="1.3" fill="#f09020"/><ellipse cx="19.8" cy="9.0" rx="1.7" ry="1.2" fill="#f09020"/><ellipse cx="23.9" cy="11.8" rx="1.5" ry="2.1" fill="#40e4e8"/><ellipse cx="22.7" cy="2.0" rx="1.3" ry="1.3" fill="#58f06a"/><ellipse cx="25.5" cy="12.0" rx="1.3" ry="2.2" fill="#f09020"/><ellipse cx="29.4" cy="18.0" rx="1.9" ry="1.7" fill="#40e4e8"/><ellipse cx="11.6" cy="15.2" rx="2.2" ry="1.7" fill="#40e4e8"/><ellipse cx="12.9" cy="9.2" rx="1.4" ry="1.6" fill="#f09020"/><ellipse cx="11.9" cy="7.4" rx="2.1" ry="1.5" fill="#58f06a"/><ellipse cx="34.8" cy="11.9" rx="1.1" ry="1.8" fill="#58f06a"/><ellipse cx="12.4" cy="16.3" rx="1.9" ry="1.6" fill="#e42a10"/><ellipse cx="23.1" cy="10.1" rx="1.2" ry="2.0" fill="#40e4e8"/><ellipse cx="19.4" cy="8.9" rx="1.8" ry="1.7" fill="#e42a10"/><ellipse cx="31.7" cy="19.9" rx="1.3" ry="1.3" fill="#40e4e8"/><ellipse cx="33.9" cy="16.1" rx="1.5" ry="1.2" fill="#40e4e8"/><ellipse cx="33.1" cy="16.7" rx="2.0" ry="2.3" fill="#e42a10"/><ellipse cx="33.1" cy="5.8" rx="1.2" ry="2.1" fill="#f09020"/><ellipse cx="29.5" cy="2.9" rx="1.5" ry="1.8" fill="#58f06a"/><ellipse cx="16.9" cy="13.3" rx="2.2" ry="2.0" fill="#e42a10"/><ellipse cx="19.0" cy="11.3" rx="2.0" ry="2.3" fill="#58f06a"/><ellipse cx="33.0" cy="17.7" rx="1.2" ry="1.4" fill="#e8f040"/><ellipse cx="13.8" cy="3.6" rx="1.3" ry="1.9" fill="#e42a10"/><ellipse cx="10.9" cy="18.6" rx="2.1" ry="1.4" fill="#40e4e8"/><ellipse cx="28.9" cy="11.7" rx="1.2" ry="2.0" fill="#40e4e8"/><ellipse cx="31.9" cy="20.9" rx="1.3" ry="2.3" fill="#58f06a"/><ellipse cx="17.8" cy="11.9" rx="1.9" ry="1.7" fill="#40e4e8"/><ellipse cx="28.9" cy="18.9" rx="1.9" ry="1.6" fill="#58f06a"/><ellipse cx="25.5" cy="20.6" rx="1.3" ry="2.3" fill="#58f06a"/><ellipse cx="18.7" cy="16.5" rx="2.0" ry="1.8" fill="#e8f040"/><ellipse cx="14.7" cy="3.1" rx="1.9" ry="1.1" fill="#58f06a"/><ellipse cx="27.4" cy="9.8" rx="1.1" ry="1.6" fill="#40e4e8"/><ellipse cx="21.8" cy="5.9" rx="1.3" ry="1.7" fill="#e8f040"/><ellipse cx="15.4" cy="1.3" rx="1.8" ry="2.1" fill="#e42a10"/><ellipse cx="24.5" cy="6.4" rx="2.3" ry="1.4" fill="#40e4e8"/><ellipse cx="8.4" cy="14.5" rx="2.1" ry="1.8" fill="#58f06a"/><ellipse cx="12.5" cy="21.7" rx="2.3" ry="1.4" fill="#e42a10"/><ellipse cx="30.4" cy="19.1" rx="1.1" ry="1.8" fill="#e8f040"/><ellipse cx="10.3" cy="15.2" rx="1.7" ry="1.4" fill="#f09020"/><ellipse cx="16.7" cy="5.8" rx="1.5" ry="1.3" fill="#40e4e8"/><ellipse cx="16.9" cy="20.5" rx="1.9" ry="1.7" fill="#40e4e8"/><ellipse cx="18.1" cy="0.8" rx="1.9" ry="1.2" fill="#40e4e8"/><ellipse cx="34.3" cy="8.6" rx="1.2" ry="2.2" fill="#e8f040"/><ellipse cx="34.1" cy="10.5" rx="2.2" ry="2.1" fill="#58f06a"/><ellipse cx="17.0" cy="9.5" rx="1.3" ry="2.2" fill="#58f06a"/><ellipse cx="14.4" cy="4.0" rx="1.3" ry="2.1" fill="#58f06a"/><ellipse cx="23.9" cy="2.8" rx="2.1" ry="2.0" fill="#40e4e8"/><ellipse cx="9.5" cy="14.7" rx="2.0" ry="1.5" fill="#f09020"/><ellipse cx="16.7" cy="12.9" rx="2.1" ry="2.1" fill="#e8f040"/><ellipse cx="15.0" cy="21.0" rx="1.4" ry="1.7" fill="#e42a10"/><ellipse cx="17.9" cy="11.8" rx="1.2" ry="1.7" fill="#f09020"/><ellipse cx="30.9" cy="10.8" rx="1.4" ry="1.4" fill="#58f06a"/><ellipse cx="12.0" cy="6.8" rx="1.6" ry="2.2" fill="#f09020"/></g></g>
<path d="M15,18 Q22,14 29,18 L27,28 L23.5,37 L20.5,37 L17,28 Z" fill="#2626e8"/>
<ellipse cx="25.4" cy="20.4" rx="0.9" ry="1.1" fill="#40e4e8"/><ellipse cx="26.0" cy="18.6" rx="1.3" ry="1.4" fill="#40e4e8"/><ellipse cx="22.2" cy="17.8" rx="1.2" ry="0.8" fill="#40e4e8"/>
</g></g></g></g>
<clipPath id="mc6"><rect x="0" y="0" width="41.0" height="36.5"/></clipPath>
<clipPath id="mc6b"><path d="M8,0 L34,0 L33,9 L31,16 L27,21 L16,21 L12,15 L10,8 Z"/></clipPath>
<g transform="translate(130.2,363.3)">
<rect x="0" y="0" width="41.0" height="36.5" fill="#888888"/>
<g clip-path="url(#mc6)"><g filter="url(#mn)"><g filter="url(#md)">
<path d="M30,2 L31,17 Q32,22 37,22" fill="none" stroke="#d8e4f4" stroke-width="4.3" stroke-opacity="0.45" stroke-linecap="round"/>
<path d="M30,2 L31,17 Q32,22 37,22" fill="none" stroke="#e42a10" stroke-width="3.0" stroke-linecap="round"/>
<ellipse cx="36.5" cy="23" rx="4" ry="3" fill="#e42a10"/>
<ellipse cx="35" cy="22" rx="1.5" ry="1.2" fill="#f09020"/>
<path d="M12,12 Q13,21 8,23 T2,26" fill="none" stroke="#d8e4f4" stroke-width="4.9" stroke-opacity="0.45" stroke-linecap="round"/>
<path d="M12,12 Q13,21 8,23 T2,26" fill="none" stroke="#b4f040" stroke-width="3.6" stroke-linecap="round"/>
<ellipse cx="5" cy="25" rx="2" ry="1.5" fill="#e8f040"/>
<path d="M8,0 L34,0 L33,9 L31,16 L27,21 L16,21 L12,15 L10,8 Z" fill="#58f06a" stroke="#d8e4f4" stroke-opacity="0.45" stroke-width="1.2"/>
<g clip-path="url(#mc6b)"><g filter="url(#mbb)"><ellipse cx="12.5" cy="15.2" rx="1.9" ry="1.7" fill="#40e4e8"/><ellipse cx="29.4" cy="17.8" rx="1.7" ry="1.7" fill="#40e4e8"/><ellipse cx="8.1" cy="8.2" rx="1.8" ry="1.2" fill="#e8f040"/><ellipse cx="14.3" cy="5.1" rx="1.2" ry="2.3" fill="#58f06a"/><ellipse cx="31.6" cy="13.5" rx="1.1" ry="1.5" fill="#58f06a"/><ellipse cx="11.1" cy="20.9" rx="1.5" ry="1.3" fill="#e8f040"/><ellipse cx="11.4" cy="20.4" rx="1.6" ry="1.8" fill="#40e4e8"/><ellipse cx="21.1" cy="4.1" rx="1.1" ry="2.1" fill="#40e4e8"/><ellipse cx="29.1" cy="4.6" rx="2.3" ry="2.2" fill="#58f06a"/><ellipse cx="28.6" cy="12.8" rx="2.0" ry="1.2" fill="#58f06a"/><ellipse cx="30.3" cy="4.4" rx="2.2" ry="2.2" fill="#40e4e8"/><ellipse cx="17.9" cy="9.9" rx="1.6" ry="2.3" fill="#40e4e8"/><ellipse cx="8.7" cy="2.1" rx="2.0" ry="2.3" fill="#58f06a"/><ellipse cx="21.3" cy="12.1" rx="2.0" ry="1.4" fill="#58f06a"/><ellipse cx="23.0" cy="13.7" rx="1.3" ry="1.3" fill="#40e4e8"/><ellipse cx="33.0" cy="7.6" rx="1.8" ry="1.5" fill="#40e4e8"/><ellipse cx="9.8" cy="17.9" rx="2.0" ry="1.5" fill="#58f06a"/><ellipse cx="26.2" cy="19.8" rx="2.2" ry="1.6" fill="#f09020"/><ellipse cx="34.0" cy="13.0" rx="2.2" ry="1.7" fill="#40e4e8"/><ellipse cx="14.7" cy="19.3" rx="1.3" ry="1.2" fill="#e8f040"/><ellipse cx="28.9" cy="10.6" rx="2.1" ry="1.2" fill="#40e4e8"/><ellipse cx="15.8" cy="9.2" rx="1.3" ry="1.2" fill="#40e4e8"/><ellipse cx="32.3" cy="21.6" rx="2.0" ry="1.7" fill="#40e4e8"/><ellipse cx="33.9" cy="11.6" rx="2.0" ry="1.1" fill="#40e4e8"/><ellipse cx="30.6" cy="17.5" rx="2.2" ry="1.8" fill="#40e4e8"/><ellipse cx="23.7" cy="18.7" rx="1.5" ry="1.7" fill="#40e4e8"/><ellipse cx="28.7" cy="0.2" rx="1.9" ry="2.2" fill="#40e4e8"/><ellipse cx="24.0" cy="14.2" rx="2.1" ry="1.8" fill="#40e4e8"/><ellipse cx="19.0" cy="21.1" rx="2.2" ry="1.3" fill="#40e4e8"/><ellipse cx="10.5" cy="0.6" rx="1.6" ry="1.3" fill="#e8f040"/><ellipse cx="25.7" cy="2.8" rx="1.7" ry="1.5" fill="#58f06a"/><ellipse cx="13.9" cy="3.7" rx="1.3" ry="1.6" fill="#58f06a"/><ellipse cx="22.9" cy="1.0" rx="2.0" ry="2.1" fill="#58f06a"/><ellipse cx="29.3" cy="0.2" rx="1.7" ry="1.2" fill="#58f06a"/><ellipse cx="12.7" cy="15.7" rx="1.4" ry="1.9" fill="#40e4e8"/><ellipse cx="9.1" cy="8.6" rx="1.5" ry="2.2" fill="#40e4e8"/><ellipse cx="21.6" cy="12.1" rx="2.2" ry="1.2" fill="#58f06a"/><ellipse cx="21.7" cy="16.2" rx="2.3" ry="1.5" fill="#58f06a"/><ellipse cx="22.2" cy="12.3" rx="1.2" ry="2.1" fill="#f09020"/><ellipse cx="17.6" cy="7.0" rx="2.3" ry="1.2" fill="#40e4e8"/><ellipse cx="10.0" cy="17.9" rx="2.0" ry="1.6" fill="#58f06a"/><ellipse cx="8.5" cy="14.2" rx="1.6" ry="1.7" fill="#40e4e8"/><ellipse cx="18.8" cy="5.0" rx="1.2" ry="1.6" fill="#40e4e8"/><ellipse cx="27.0" cy="18.0" rx="2.0" ry="1.6" fill="#40e4e8"/><ellipse cx="18.4" cy="10.7" rx="1.9" ry="2.3" fill="#40e4e8"/><ellipse cx="21.0" cy="10.8" rx="2.0" ry="2.2" fill="#e8f040"/><ellipse cx="24.9" cy="16.7" rx="1.9" ry="2.1" fill="#58f06a"/><ellipse cx="26.4" cy="5.4" rx="2.2" ry="1.6" fill="#58f06a"/><ellipse cx="30.3" cy="21.2" rx="2.3" ry="1.1" fill="#40e4e8"/><ellipse cx="16.4" cy="8.6" rx="1.3" ry="1.8" fill="#40e4e8"/><ellipse cx="16.2" cy="20.8" rx="2.0" ry="1.7" fill="#40e4e8"/><ellipse cx="33.8" cy="15.5" rx="1.3" ry="1.5" fill="#58f06a"/><ellipse cx="26.4" cy="5.7" rx="2.2" ry="1.5" fill="#40e4e8"/><ellipse cx="30.8" cy="3.4" rx="1.9" ry="1.3" fill="#58f06a"/><ellipse cx="15.5" cy="8.3" rx="2.2" ry="1.7" fill="#40e4e8"/><ellipse cx="24.7" cy="6.2" rx="1.3" ry="1.6" fill="#40e4e8"/><ellipse cx="13.1" cy="21.1" rx="1.1" ry="2.1" fill="#f09020"/><ellipse cx="27.0" cy="0.4" rx="1.7" ry="1.1" fill="#58f06a"/><ellipse cx="26.9" cy="5.3" rx="1.1" ry="1.8" fill="#40e4e8"/><ellipse cx="16.3" cy="10.0" rx="2.2" ry="1.5" fill="#40e4e8"/></g></g>
<g filter="url(#mbb)"><ellipse cx="21" cy="11" rx="4" ry="7" fill="#f09020"/><ellipse cx="21" cy="10" rx="2.5" ry="4.5" fill="#e42a10"/></g>
<path d="M15,18 Q22,14 29,18 L27,28 L23.5,37 L20.5,37 L17,28 Z" fill="#2626e8"/>
<ellipse cx="24.3" cy="22.8" rx="1.1" ry="0.8" fill="#40e4e8"/><ellipse cx="21.2" cy="20.9" rx="0.9" ry="1.3" fill="#40e4e8"/><ellipse cx="25.4" cy="23.2" rx="0.8" ry="1.1" fill="#40e4e8"/>
</g></g></g></g>
<clipPath id="mc7"><rect x="0" y="0" width="40.6" height="36.5"/></clipPath>
<clipPath id="mc7b"><path d="M8,0 L34,0 L33,9 L31,16 L27,21 L16,21 L12,15 L10,8 Z"/></clipPath>
<g transform="translate(176.0,363.3)">
<rect x="0" y="0" width="40.6" height="36.5" fill="#888888"/>
<g clip-path="url(#mc7)"><g filter="url(#mn)"><g filter="url(#md)">
<path d="M30,2 L31,17 Q32,22 37,22" fill="none" stroke="#d8e4f4" stroke-width="4.3" stroke-opacity="0.45" stroke-linecap="round"/>
<path d="M30,2 L31,17 Q32,22 37,22" fill="none" stroke="#e42a10" stroke-width="3.0" stroke-linecap="round"/>
<ellipse cx="36.5" cy="23" rx="4" ry="3" fill="#e42a10"/>
<ellipse cx="35" cy="22" rx="1.5" ry="1.2" fill="#f09020"/>
<path d="M12,12 Q13,21 8,23 T2,26" fill="none" stroke="#d8e4f4" stroke-width="4.9" stroke-opacity="0.45" stroke-linecap="round"/>
<path d="M12,12 Q13,21 8,23 T2,26" fill="none" stroke="#b4f040" stroke-width="3.6" stroke-linecap="round"/>
<ellipse cx="5" cy="25" rx="2" ry="1.5" fill="#e8f040"/>
<path d="M8,0 L34,0 L33,9 L31,16 L27,21 L16,21 L12,15 L10,8 Z" fill="#58f06a" stroke="#d8e4f4" stroke-opacity="0.45" stroke-width="1.2"/>
<g clip-path="url(#mc7b)"><g filter="url(#mbb)"><ellipse cx="27.2" cy="18.5" rx="1.3" ry="2.3" fill="#40e4e8"/><ellipse cx="26.1" cy="2.0" rx="2.0" ry="1.3" fill="#e8f040"/><ellipse cx="27.6" cy="16.9" rx="1.6" ry="2.1" fill="#e42a10"/><ellipse cx="11.1" cy="11.4" rx="2.2" ry="2.0" fill="#58f06a"/><ellipse cx="16.2" cy="21.0" rx="1.2" ry="2.0" fill="#f09020"/><ellipse cx="12.3" cy="7.2" rx="1.5" ry="1.8" fill="#58f06a"/><ellipse cx="32.1" cy="20.3" rx="1.5" ry="2.2" fill="#40e4e8"/><ellipse cx="10.6" cy="14.6" rx="2.1" ry="2.1" fill="#e42a10"/><ellipse cx="31.2" cy="5.9" rx="2.0" ry="2.2" fill="#40e4e8"/><ellipse cx="21.3" cy="3.4" rx="1.3" ry="1.7" fill="#e8f040"/><ellipse cx="34.3" cy="2.9" rx="1.7" ry="2.3" fill="#e8f040"/><ellipse cx="22.4" cy="5.3" rx="1.9" ry="1.4" fill="#e8f040"/><ellipse cx="25.5" cy="8.6" rx="2.1" ry="1.6" fill="#58f06a"/><ellipse cx="30.5" cy="5.5" rx="1.3" ry="1.8" fill="#58f06a"/><ellipse cx="31.6" cy="5.5" rx="1.5" ry="1.2" fill="#58f06a"/><ellipse cx="16.4" cy="9.9" rx="2.0" ry="1.1" fill="#e42a10"/><ellipse cx="27.2" cy="17.8" rx="1.7" ry="1.8" fill="#58f06a"/><ellipse cx="18.7" cy="4.9" rx="1.5" ry="1.5" fill="#58f06a"/><ellipse cx="32.5" cy="17.6" rx="1.9" ry="1.1" fill="#58f06a"/><ellipse cx="22.7" cy="15.2" rx="1.6" ry="1.9" fill="#f09020"/><ellipse cx="15.2" cy="8.4" rx="2.0" ry="1.5" fill="#e8f040"/><ellipse cx="18.7" cy="0.4" rx="1.7" ry="1.2" fill="#e8f040"/><ellipse cx="30.8" cy="11.7" rx="2.2" ry="1.4" fill="#58f06a"/><ellipse cx="12.7" cy="1.1" rx="2.1" ry="1.2" fill="#e42a10"/><ellipse cx="23.0" cy="15.4" rx="1.2" ry="2.2" fill="#e8f040"/><ellipse cx="10.8" cy="4.0" rx="1.3" ry="1.7" fill="#40e4e8"/><ellipse cx="29.6" cy="10.9" rx="1.9" ry="1.4" fill="#e8f040"/><ellipse cx="20.2" cy="14.3" rx="1.6" ry="2.3" fill="#f09020"/><ellipse cx="30.5" cy="7.5" rx="1.3" ry="1.3" fill="#40e4e8"/><ellipse cx="34.1" cy="6.2" rx="2.1" ry="1.4" fill="#e8f040"/><ellipse cx="14.7" cy="6.8" rx="2.0" ry="1.8" fill="#e42a10"/><ellipse cx="14.4" cy="6.0" rx="1.2" ry="1.4" fill="#e42a10"/><ellipse cx="23.2" cy="10.5" rx="1.5" ry="2.0" fill="#e8f040"/><ellipse cx="12.2" cy="1.0" rx="1.3" ry="2.1" fill="#e8f040"/><ellipse cx="14.1" cy="5.2" rx="1.5" ry="1.9" fill="#e8f040"/><ellipse cx="14.4" cy="7.2" rx="1.4" ry="2.2" fill="#58f06a"/><ellipse cx="33.4" cy="5.3" rx="1.9" ry="1.8" fill="#e42a10"/><ellipse cx="17.8" cy="5.0" rx="2.1" ry="2.2" fill="#58f06a"/><ellipse cx="17.0" cy="1.9" rx="1.6" ry="2.2" fill="#58f06a"/><ellipse cx="20.1" cy="12.4" rx="1.4" ry="1.2" fill="#58f06a"/><ellipse cx="34.1" cy="19.2" rx="1.5" ry="2.0" fill="#e8f040"/><ellipse cx="23.7" cy="7.9" rx="1.3" ry="1.9" fill="#e8f040"/><ellipse cx="13.8" cy="3.1" rx="1.2" ry="2.1" fill="#f09020"/><ellipse cx="22.0" cy="13.4" rx="1.9" ry="1.3" fill="#58f06a"/><ellipse cx="20.1" cy="19.1" rx="1.3" ry="2.1" fill="#40e4e8"/><ellipse cx="24.5" cy="19.6" rx="1.2" ry="1.7" fill="#40e4e8"/><ellipse cx="21.7" cy="10.7" rx="2.3" ry="1.7" fill="#f09020"/><ellipse cx="27.7" cy="18.5" rx="1.5" ry="1.2" fill="#e8f040"/><ellipse cx="11.0" cy="13.8" rx="1.3" ry="1.8" fill="#e8f040"/><ellipse cx="34.0" cy="4.4" rx="1.3" ry="1.6" fill="#e42a10"/><ellipse cx="14.9" cy="10.5" rx="1.6" ry="1.2" fill="#58f06a"/><ellipse cx="16.3" cy="10.3" rx="2.0" ry="1.9" fill="#40e4e8"/><ellipse cx="25.5" cy="11.8" rx="2.0" ry="1.1" fill="#58f06a"/><ellipse cx="26.2" cy="12.3" rx="1.7" ry="1.7" fill="#e8f040"/><ellipse cx="27.9" cy="18.4" rx="2.0" ry="2.2" fill="#58f06a"/><ellipse cx="12.6" cy="8.1" rx="2.1" ry="2.0" fill="#e8f040"/><ellipse cx="11.4" cy="3.5" rx="1.9" ry="1.6" fill="#40e4e8"/><ellipse cx="34.2" cy="5.1" rx="2.2" ry="1.8" fill="#e42a10"/><ellipse cx="28.9" cy="4.4" rx="1.4" ry="2.1" fill="#58f06a"/><ellipse cx="21.6" cy="16.4" rx="1.8" ry="2.0" fill="#58f06a"/></g></g>
<path d="M15,18 Q22,14 29,18 L27,28 L23.5,37 L20.5,37 L17,28 Z" fill="#2626e8"/>
<ellipse cx="20.2" cy="22.1" rx="0.9" ry="1.2" fill="#40e4e8"/><ellipse cx="19.1" cy="17.0" rx="1.3" ry="0.9" fill="#40e4e8"/><ellipse cx="20.3" cy="18.0" rx="1.0" ry="0.8" fill="#40e4e8"/>
</g></g></g></g>
<clipPath id="mc8"><rect x="0" y="0" width="40.8" height="36.5"/></clipPath>
<clipPath id="mc8b"><path d="M8,0 L34,0 L33,9 L31,16 L27,21 L16,21 L12,15 L10,8 Z"/></clipPath>
<g transform="translate(38.7,403.5)">
<rect x="0" y="0" width="40.8" height="36.5" fill="#888888"/>
<g clip-path="url(#mc8)"><g filter="url(#mn)"><g filter="url(#md)">
<path d="M30,2 L31,17 Q32,22 37,22" fill="none" stroke="#d8e4f4" stroke-width="4.3" stroke-opacity="0.45" stroke-linecap="round"/>
<path d="M30,2 L31,17 Q32,22 37,22" fill="none" stroke="#e42a10" stroke-width="3.0" stroke-linecap="round"/>
<ellipse cx="36.5" cy="23" rx="4" ry="3" fill="#e42a10"/>
<ellipse cx="35" cy="22" rx="1.5" ry="1.2" fill="#f09020"/>
<path d="M12,12 Q13,21 8,23 T2,26" fill="none" stroke="#d8e4f4" stroke-width="4.9" stroke-opacity="0.45" stroke-linecap="round"/>
<path d="M12,12 Q13,21 8,23 T2,26" fill="none" stroke="#b4f040" stroke-width="3.6" stroke-linecap="round"/>
<ellipse cx="5" cy="25" rx="2" ry="1.5" fill="#e8f040"/>
<path d="M8,0 L34,0 L33,9 L31,16 L27,21 L16,21 L12,15 L10,8 Z" fill="#58f06a" stroke="#d8e4f4" stroke-opacity="0.45" stroke-width="1.2"/>
<g clip-path="url(#mc8b)"><g filter="url(#mbb)"><ellipse cx="18.2" cy="20.4" rx="2.1" ry="1.4" fill="#40e4e8"/><ellipse cx="25.2" cy="0.9" rx="2.2" ry="1.4" fill="#e8f040"/><ellipse cx="19.5" cy="12.9" rx="1.2" ry="1.9" fill="#f09020"/><ellipse cx="21.8" cy="17.5" rx="1.8" ry="2.1" fill="#58f06a"/><ellipse cx="17.7" cy="10.3" rx="1.2" ry="2.3" fill="#e42a10"/><ellipse cx="10.7" cy="12.8" rx="1.6" ry="1.3" fill="#58f06a"/><ellipse cx="20.4" cy="1.5" rx="1.8" ry="1.7" fill="#58f06a"/><ellipse cx="31.6" cy="0.9" rx="1.3" ry="2.1" fill="#e8f040"/><ellipse cx="19.5" cy="12.3" rx="1.6" ry="1.7" fill="#e42a10"/><ellipse cx="21.0" cy="1.3" rx="2.1" ry="1.4" fill="#58f06a"/><ellipse cx="19.0" cy="17.9" rx="1.9" ry="1.6" fill="#e42a10"/><ellipse cx="13.9" cy="13.6" rx="1.5" ry="1.2" fill="#58f06a"/><ellipse cx="10.5" cy="15.1" rx="2.2" ry="2.0" fill="#e8f040"/><ellipse cx="12.0" cy="20.9" rx="1.5" ry="1.3" fill="#e42a10"/><ellipse cx="24.7" cy="11.9" rx="1.6" ry="1.5" fill="#e42a10"/><ellipse cx="20.4" cy="15.0" rx="1.6" ry="1.5" fill="#40e4e8"/><ellipse cx="11.0" cy="16.6" rx="1.6" ry="2.1" fill="#e42a10"/><ellipse cx="23.3" cy="13.4" rx="1.4" ry="1.1" fill="#f09020"/><ellipse cx="15.0" cy="2.4" rx="2.1" ry="1.8" fill="#58f06a"/><ellipse cx="22.0" cy="3.6" rx="2.1" ry="1.4" fill="#40e4e8"/><ellipse cx="24.5" cy="1.7" rx="1.6" ry="2.3" fill="#e42a10"/><ellipse cx="12.2" cy="8.1" rx="1.4" ry="1.2" fill="#e42a10"/><ellipse cx="26.8" cy="4.8" rx="1.8" ry="2.1" fill="#40e4e8"/><ellipse cx="12.6" cy="1.6" rx="2.2" ry="1.5" fill="#58f06a"/><ellipse cx="29.6" cy="5.8" rx="2.0" ry="1.9" fill="#e8f040"/><ellipse cx="20.4" cy="6.4" rx="2.1" ry="1.4" fill="#e8f040"/><ellipse cx="31.2" cy="6.1" rx="1.6" ry="1.7" fill="#58f06a"/><ellipse cx="15.7" cy="16.4" rx="2.3" ry="1.5" fill="#e42a10"/><ellipse cx="9.5" cy="10.7" rx="1.5" ry="1.7" fill="#e8f040"/><ellipse cx="16.5" cy="20.1" rx="2.0" ry="1.5" fill="#58f06a"/><ellipse cx="9.4" cy="2.1" rx="1.3" ry="1.8" fill="#e42a10"/><ellipse cx="11.5" cy="19.3" rx="1.9" ry="2.0" fill="#40e4e8"/><ellipse cx="16.5" cy="19.9" rx="2.3" ry="2.2" fill="#58f06a"/><ellipse cx="31.0" cy="21.7" rx="1.2" ry="2.1" fill="#f09020"/><ellipse cx="8.9" cy="15.6" rx="2.0" ry="2.0" fill="#58f06a"/><ellipse cx="34.2" cy="1.6" rx="1.2" ry="2.2" fill="#e42a10"/><ellipse cx="12.8" cy="8.7" rx="1.8" ry="1.4" fill="#40e4e8"/><ellipse cx="26.2" cy="8.5" rx="1.5" ry="1.2" fill="#40e4e8"/><ellipse cx="16.3" cy="20.6" rx="1.7" ry="1.7" fill="#58f06a"/><ellipse cx="21.6" cy="2.2" rx="1.6" ry="1.8" fill="#40e4e8"/><ellipse cx="14.0" cy="4.0" rx="2.0" ry="1.3" fill="#58f06a"/><ellipse cx="20.9" cy="9.4" rx="2.3" ry="1.2" fill="#40e4e8"/><ellipse cx="20.5" cy="3.0" rx="1.4" ry="2.2" fill="#58f06a"/><ellipse cx="19.4" cy="0.9" rx="1.7" ry="1.9" fill="#f09020"/><ellipse cx="17.2" cy="9.4" rx="2.1" ry="2.2" fill="#e42a10"/><ellipse cx="9.5" cy="20.7" rx="1.5" ry="1.7" fill="#58f06a"/><ellipse cx="8.6" cy="2.5" rx="1.8" ry="1.4" fill="#f09020"/><ellipse cx="11.9" cy="14.4" rx="1.1" ry="1.5" fill="#40e4e8"/><ellipse cx="14.9" cy="6.9" rx="1.1" ry="2.1" fill="#e42a10"/><ellipse cx="14.7" cy="12.3" rx="1.4" ry="2.2" fill="#e8f040"/><ellipse cx="9.8" cy="4.8" rx="1.2" ry="2.0" fill="#58f06a"/><ellipse cx="21.1" cy="13.1" rx="1.2" ry="1.9" fill="#e42a10"/><ellipse cx="33.2" cy="20.6" rx="2.3" ry="1.7" fill="#e42a10"/><ellipse cx="19.6" cy="2.9" rx="1.8" ry="2.3" fill="#e42a10"/><ellipse cx="31.0" cy="5.8" rx="1.6" ry="1.6" fill="#40e4e8"/><ellipse cx="18.0" cy="16.7" rx="1.3" ry="2.0" fill="#e42a10"/><ellipse cx="34.8" cy="0.4" rx="1.4" ry="2.2" fill="#e42a10"/><ellipse cx="15.5" cy="19.1" rx="1.6" ry="2.2" fill="#e42a10"/><ellipse cx="9.6" cy="2.2" rx="2.1" ry="2.2" fill="#58f06a"/><ellipse cx="34.8" cy="18.4" rx="1.7" ry="2.0" fill="#e42a10"/></g></g>
<path d="M15,18 Q22,14 29,18 L27,28 L23.5,37 L20.5,37 L17,28 Z" fill="#2626e8"/>
<ellipse cx="18.3" cy="19.1" rx="1.0" ry="1.3" fill="#40e4e8"/><ellipse cx="23.6" cy="21.4" rx="0.9" ry="1.1" fill="#40e4e8"/><ellipse cx="23.8" cy="19.5" rx="1.4" ry="1.3" fill="#40e4e8"/>
</g></g></g></g>
<clipPath id="mc9"><rect x="0" y="0" width="40.3" height="36.5"/></clipPath>
<clipPath id="mc9b"><path d="M8,0 L34,0 L33,9 L31,16 L27,21 L16,21 L12,15 L10,8 Z"/></clipPath>
<g transform="translate(84.7,403.5)">
<rect x="0" y="0" width="40.3" height="36.5" fill="#888888"/>
<g clip-path="url(#mc9)"><g filter="url(#mn)"><g filter="url(#md)">
<path d="M30,2 L31,17 Q32,22 37,22" fill="none" stroke="#d8e4f4" stroke-width="4.3" stroke-opacity="0.45" stroke-linecap="round"/>
<path d="M30,2 L31,17 Q32,22 37,22" fill="none" stroke="#e42a10" stroke-width="3.0" stroke-linecap="round"/>
<ellipse cx="36.5" cy="23" rx="4" ry="3" fill="#e42a10"/>
<ellipse cx="35" cy="22" rx="1.5" ry="1.2" fill="#f09020"/>
<path d="M12,12 Q13,21 8,23 T2,26" fill="none" stroke="#d8e4f4" stroke-width="4.9" stroke-opacity="0.45" stroke-linecap="round"/>
<path d="M12,12 Q13,21 8,23 T2,26" fill="none" stroke="#b4f040" stroke-width="3.6" stroke-linecap="round"/>
<ellipse cx="5" cy="25" rx="2" ry="1.5" fill="#e8f040"/>
<path d="M8,0 L34,0 L33,9 L31,16 L27,21 L16,21 L12,15 L10,8 Z" fill="#58f06a" stroke="#d8e4f4" stroke-opacity="0.45" stroke-width="1.2"/>
<g clip-path="url(#mc9b)"><g filter="url(#mbb)"><ellipse cx="11.0" cy="2.9" rx="1.8" ry="1.3" fill="#58f06a"/><ellipse cx="20.5" cy="9.2" rx="1.4" ry="1.6" fill="#40e4e8"/><ellipse cx="11.5" cy="4.1" rx="1.1" ry="1.4" fill="#58f06a"/><ellipse cx="34.6" cy="6.9" rx="2.3" ry="1.3" fill="#40e4e8"/><ellipse cx="21.7" cy="15.2" rx="1.9" ry="1.4" fill="#e8f040"/><ellipse cx="26.3" cy="2.9" rx="1.1" ry="2.0" fill="#f09020"/><ellipse cx="15.0" cy="11.4" rx="2.2" ry="1.4" fill="#58f06a"/><ellipse cx="19.3" cy="3.7" rx="1.5" ry="1.1" fill="#f09020"/><ellipse cx="29.8" cy="8.2" rx="1.6" ry="1.4" fill="#40e4e8"/><ellipse cx="31.7" cy="14.6" rx="1.3" ry="1.3" fill="#f09020"/><ellipse cx="13.1" cy="15.1" rx="1.6" ry="1.1" fill="#58f06a"/><ellipse cx="32.7" cy="7.1" rx="1.9" ry="2.0" fill="#e42a10"/><ellipse cx="21.5" cy="18.9" rx="2.0" ry="1.7" fill="#e42a10"/><ellipse cx="20.1" cy="9.4" rx="1.9" ry="1.4" fill="#40e4e8"/><ellipse cx="15.9" cy="5.1" rx="2.3" ry="1.1" fill="#e42a10"/><ellipse cx="22.9" cy="9.7" rx="2.1" ry="1.9" fill="#e42a10"/><ellipse cx="8.1" cy="21.7" rx="1.5" ry="1.5" fill="#58f06a"/><ellipse cx="13.3" cy="2.3" rx="1.3" ry="1.9" fill="#e8f040"/><ellipse cx="21.8" cy="14.4" rx="1.2" ry="2.0" fill="#58f06a"/><ellipse cx="29.7" cy="19.5" rx="1.6" ry="1.5" fill="#e42a10"/><ellipse cx="32.3" cy="21.5" rx="2.0" ry="1.6" fill="#e42a10"/><ellipse cx="26.8" cy="7.3" rx="2.0" ry="1.5" fill="#e42a10"/><ellipse cx="22.0" cy="11.6" rx="2.1" ry="2.2" fill="#40e4e8"/><ellipse cx="25.4" cy="8.7" rx="1.6" ry="1.7" fill="#40e4e8"/><ellipse cx="27.9" cy="2.0" rx="1.4" ry="1.2" fill="#e8f040"/><ellipse cx="30.3" cy="13.8" rx="1.1" ry="2.0" fill="#f09020"/><ellipse cx="20.9" cy="0.7" rx="1.1" ry="1.2" fill="#40e4e8"/><ellipse cx="19.0" cy="1.3" rx="2.1" ry="1.7" fill="#e8f040"/><ellipse cx="18.6" cy="4.6" rx="1.1" ry="2.0" fill="#40e4e8"/><ellipse cx="17.5" cy="12.7" rx="2.1" ry="1.1" fill="#40e4e8"/><ellipse cx="11.1" cy="8.2" rx="1.2" ry="1.3" fill="#58f06a"/><ellipse cx="14.9" cy="9.9" rx="1.9" ry="1.7" fill="#f09020"/><ellipse cx="33.5" cy="4.9" rx="1.5" ry="1.8" fill="#58f06a"/><ellipse cx="9.0" cy="18.3" rx="1.7" ry="1.5" fill="#f09020"/><ellipse cx="15.5" cy="8.2" rx="1.3" ry="1.6" fill="#e8f040"/><ellipse cx="22.9" cy="19.2" rx="2.0" ry="1.9" fill="#e42a10"/><ellipse cx="31.3" cy="3.6" rx="2.2" ry="1.3" fill="#40e4e8"/><ellipse cx="21.3" cy="15.5" rx="2.3" ry="1.1" fill="#e8f040"/><ellipse cx="11.4" cy="6.8" rx="1.4" ry="1.9" fill="#40e4e8"/><ellipse cx="15.0" cy="9.0" rx="1.2" ry="1.2" fill="#58f06a"/><ellipse cx="9.7" cy="18.5" rx="1.5" ry="1.9" fill="#f09020"/><ellipse cx="14.5" cy="10.0" rx="1.9" ry="1.6" fill="#f09020"/><ellipse cx="10.1" cy="18.9" rx="2.3" ry="2.3" fill="#40e4e8"/><ellipse cx="24.0" cy="4.8" rx="1.2" ry="1.6" fill="#58f06a"/><ellipse cx="24.6" cy="20.5" rx="1.4" ry="1.8" fill="#58f06a"/><ellipse cx="34.1" cy="14.3" rx="1.8" ry="1.7" fill="#e8f040"/><ellipse cx="33.4" cy="10.7" rx="2.3" ry="2.0" fill="#40e4e8"/><ellipse cx="16.7" cy="14.2" rx="1.8" ry="1.2" fill="#40e4e8"/><ellipse cx="16.0" cy="9.2" rx="1.1" ry="1.6" fill="#58f06a"/><ellipse cx="15.5" cy="18.2" rx="1.3" ry="2.0" fill="#e8f040"/><ellipse cx="24.9" cy="18.0" rx="1.4" ry="1.3" fill="#40e4e8"/><ellipse cx="16.8" cy="17.1" rx="1.4" ry="2.3" fill="#40e4e8"/><ellipse cx="14.1" cy="18.5" rx="1.3" ry="2.1" fill="#58f06a"/><ellipse cx="17.1" cy="0.2" rx="2.1" ry="1.4" fill="#e42a10"/><ellipse cx="29.2" cy="5.7" rx="1.9" ry="1.9" fill="#e42a10"/><ellipse cx="15.6" cy="7.8" rx="1.8" ry="2.1" fill="#58f06a"/><ellipse cx="26.9" cy="1.8" rx="1.4" ry="1.2" fill="#58f06a"/><ellipse cx="25.6" cy="21.3" rx="2.1" ry="1.7" fill="#40e4e8"/><ellipse cx="8.0" cy="6.7" rx="1.1" ry="1.8" fill="#40e4e8"/><ellipse cx="16.9" cy="11.8" rx="1.5" ry="1.5" fill="#58f06a"/></g></g>
<path d="M15,18 Q22,14 29,18 L27,28 L23.5,37 L20.5,37 L17,28 Z" fill="#2626e8"/>
<ellipse cx="23.0" cy="22.3" rx="1.3" ry="1.3" fill="#40e4e8"/><ellipse cx="22.3" cy="23.0" rx="1.2" ry="1.2" fill="#40e4e8"/><ellipse cx="25.4" cy="21.5" rx="1.3" ry="1.1" fill="#40e4e8"/>
</g></g></g></g>
<clipPath id="mc10"><rect x="0" y="0" width="41.0" height="36.5"/></clipPath>
<clipPath id="mc10b"><path d="M8,0 L34,0 L33,9 L31,16 L27,21 L16,21 L12,15 L10,8 Z"/></clipPath>
<g transform="translate(130.2,403.5)">
<rect x="0" y="0" width="41.0" height="36.5" fill="#888888"/>
<g clip-path="url(#mc10)"><g filter="url(#mn)"><g filter="url(#md)">
<path d="M30,2 L31,17 Q32,22 37,22" fill="none" stroke="#d8e4f4" stroke-width="4.3" stroke-opacity="0.45" stroke-linecap="round"/>
<path d="M30,2 L31,17 Q32,22 37,22" fill="none" stroke="#e42a10" stroke-width="3.0" stroke-linecap="round"/>
<ellipse cx="36.5" cy="23" rx="4" ry="3" fill="#e42a10"/>
<ellipse cx="35" cy="22" rx="1.5" ry="1.2" fill="#f09020"/>
<path d="M12,12 Q13,21 8,23 T2,26" fill="none" stroke="#d8e4f4" stroke-width="4.9" stroke-opacity="0.45" stroke-linecap="round"/>
<path d="M12,12 Q13,21 8,23 T2,26" fill="none" stroke="#b4f040" stroke-width="3.6" stroke-linecap="round"/>
<ellipse cx="5" cy="25" rx="2" ry="1.5" fill="#40e4e8"/>
<path d="M8,0 L34,0 L33,9 L31,16 L27,21 L16,21 L12,15 L10,8 Z" fill="#6838f0" stroke="#d8e4f4" stroke-opacity="0.45" stroke-width="1.2"/>
<g clip-path="url(#mc10b)"><g filter="url(#mbb)"><ellipse cx="8.3" cy="2.5" rx="1.6" ry="1.9" fill="#6838f0"/><ellipse cx="11.0" cy="5.1" rx="2.0" ry="1.3" fill="#2626e8"/><ellipse cx="25.9" cy="3.0" rx="1.7" ry="1.6" fill="#40e4e8"/><ellipse cx="34.9" cy="2.0" rx="1.1" ry="2.2" fill="#40e4e8"/><ellipse cx="13.4" cy="7.3" rx="1.5" ry="2.2" fill="#6838f0"/><ellipse cx="13.9" cy="12.9" rx="1.8" ry="2.2" fill="#9a80f8"/><ellipse cx="17.6" cy="4.5" rx="2.1" ry="2.3" fill="#6838f0"/><ellipse cx="27.8" cy="19.1" rx="1.9" ry="1.4" fill="#2626e8"/><ellipse cx="27.7" cy="4.3" rx="1.9" ry="1.4" fill="#6838f0"/><ellipse cx="17.1" cy="7.4" rx="1.6" ry="1.9" fill="#9a80f8"/><ellipse cx="34.0" cy="21.5" rx="2.3" ry="2.0" fill="#6838f0"/><ellipse cx="12.8" cy="13.7" rx="1.8" ry="1.9" fill="#6838f0"/><ellipse cx="13.2" cy="20.3" rx="1.8" ry="1.9" fill="#6838f0"/><ellipse cx="18.8" cy="20.0" rx="1.9" ry="2.3" fill="#6838f0"/><ellipse cx="20.3" cy="17.6" rx="1.6" ry="2.0" fill="#2626e8"/><ellipse cx="11.2" cy="2.2" rx="2.3" ry="1.2" fill="#6838f0"/><ellipse cx="17.1" cy="15.7" rx="2.1" ry="1.7" fill="#40e4e8"/><ellipse cx="29.3" cy="6.1" rx="1.5" ry="1.8" fill="#2626e8"/><ellipse cx="9.0" cy="2.5" rx="1.3" ry="2.0" fill="#2626e8"/><ellipse cx="34.3" cy="16.9" rx="1.4" ry="2.0" fill="#9a80f8"/><ellipse cx="17.4" cy="0.2" rx="1.6" ry="1.4" fill="#6838f0"/><ellipse cx="9.2" cy="2.7" rx="2.1" ry="1.2" fill="#2626e8"/><ellipse cx="13.6" cy="4.3" rx="2.1" ry="1.5" fill="#6838f0"/><ellipse cx="20.3" cy="15.3" rx="1.7" ry="2.1" fill="#40e4e8"/><ellipse cx="22.1" cy="15.8" rx="1.7" ry="2.0" fill="#40e4e8"/><ellipse cx="11.6" cy="2.7" rx="2.0" ry="2.0" fill="#9a80f8"/><ellipse cx="26.6" cy="12.8" rx="1.3" ry="2.1" fill="#6838f0"/><ellipse cx="19.5" cy="3.1" rx="1.6" ry="1.5" fill="#40e4e8"/><ellipse cx="27.2" cy="11.9" rx="1.4" ry="2.0" fill="#2626e8"/><ellipse cx="30.3" cy="0.7" rx="1.8" ry="2.2" fill="#6838f0"/><ellipse cx="13.5" cy="17.9" rx="1.5" ry="1.6" fill="#2626e8"/><ellipse cx="18.4" cy="4.4" rx="1.4" ry="1.5" fill="#2626e8"/><ellipse cx="17.9" cy="17.0" rx="1.2" ry="1.4" fill="#2626e8"/><ellipse cx="20.9" cy="11.0" rx="2.2" ry="1.4" fill="#6838f0"/><ellipse cx="8.9" cy="10.6" rx="1.5" ry="1.7" fill="#6838f0"/><ellipse cx="8.0" cy="8.4" rx="2.0" ry="1.5" fill="#9a80f8"/><ellipse cx="23.6" cy="8.9" rx="2.0" ry="1.4" fill="#2626e8"/><ellipse cx="30.9" cy="11.9" rx="1.5" ry="1.2" fill="#2626e8"/><ellipse cx="13.1" cy="8.2" rx="1.8" ry="2.2" fill="#2626e8"/><ellipse cx="22.0" cy="18.9" rx="1.5" ry="1.6" fill="#2626e8"/><ellipse cx="23.0" cy="4.9" rx="1.6" ry="2.1" fill="#6838f0"/><ellipse cx="27.1" cy="1.1" rx="2.2" ry="1.9" fill="#6838f0"/><ellipse cx="34.5" cy="17.5" rx="1.2" ry="1.4" fill="#40e4e8"/><ellipse cx="35.0" cy="3.1" rx="1.2" ry="1.5" fill="#6838f0"/><ellipse cx="19.0" cy="11.8" rx="1.6" ry="1.3" fill="#6838f0"/><ellipse cx="29.7" cy="9.7" rx="1.7" ry="1.7" fill="#2626e8"/><ellipse cx="32.3" cy="18.2" rx="2.0" ry="1.5" fill="#6838f0"/><ellipse cx="10.4" cy="18.9" rx="1.2" ry="1.8" fill="#9a80f8"/><ellipse cx="16.7" cy="8.6" rx="1.6" ry="2.2" fill="#2626e8"/><ellipse cx="30.6" cy="0.9" rx="2.0" ry="1.6" fill="#40e4e8"/><ellipse cx="30.0" cy="16.2" rx="2.2" ry="2.0" fill="#9a80f8"/><ellipse cx="19.6" cy="12.2" rx="2.0" ry="1.6" fill="#6838f0"/><ellipse cx="23.8" cy="19.2" rx="2.1" ry="1.3" fill="#40e4e8"/><ellipse cx="14.2" cy="7.5" rx="2.3" ry="1.6" fill="#6838f0"/><ellipse cx="15.4" cy="9.7" rx="1.9" ry="1.5" fill="#6838f0"/></g></g>
<path d="M15,16 Q22,13 29,16 L27,28 L23.5,37 L20.5,37 L17,28 Z" fill="#3a30e8"/>
<ellipse cx="20.4" cy="19.6" rx="1.3" ry="0.9" fill="#8070f0"/><ellipse cx="19.6" cy="27.0" rx="1.0" ry="1.3" fill="#40e4e8"/><ellipse cx="19.5" cy="17.3" rx="1.3" ry="1.1" fill="#40e4e8"/><ellipse cx="21.1" cy="25.7" rx="1.1" ry="0.8" fill="#8070f0"/><ellipse cx="20.9" cy="27.9" rx="1.1" ry="1.3" fill="#40e4e8"/>
</g></g></g></g>
<clipPath id="mc11"><rect x="0" y="0" width="40.6" height="36.5"/></clipPath>
<clipPath id="mc11b"><path d="M8,0 L34,0 L33,9 L31,16 L27,21 L16,21 L12,15 L10,8 Z"/></clipPath>
<g transform="translate(176.0,403.5)">
<rect x="0" y="0" width="40.6" height="36.5" fill="#888888"/>
<g clip-path="url(#mc11)"><g filter="url(#mn)"><g filter="url(#md)">
<path d="M30,2 L31,17 Q32,22 37,22" fill="none" stroke="#d8e4f4" stroke-width="4.3" stroke-opacity="0.45" stroke-linecap="round"/>
<path d="M30,2 L31,17 Q32,22 37,22" fill="none" stroke="#e42a10" stroke-width="3.0" stroke-linecap="round"/>
<ellipse cx="36.5" cy="23" rx="4" ry="3" fill="#e42a10"/>
<ellipse cx="35" cy="22" rx="1.5" ry="1.2" fill="#f09020"/>
<path d="M12,12 Q13,21 8,23 T2,26" fill="none" stroke="#d8e4f4" stroke-width="4.9" stroke-opacity="0.45" stroke-linecap="round"/>
<path d="M12,12 Q13,21 8,23 T2,26" fill="none" stroke="#b4f040" stroke-width="3.6" stroke-linecap="round"/>
<ellipse cx="5" cy="25" rx="2" ry="1.5" fill="#40e4e8"/>
<path d="M8,0 L34,0 L33,9 L31,16 L27,21 L16,21 L12,15 L10,8 Z" fill="#6838f0" stroke="#d8e4f4" stroke-opacity="0.45" stroke-width="1.2"/>
<g clip-path="url(#mc11b)"><g filter="url(#mbb)"><ellipse cx="22.3" cy="12.9" rx="2.1" ry="2.2" fill="#9a80f8"/><ellipse cx="17.8" cy="20.9" rx="1.6" ry="1.5" fill="#6838f0"/><ellipse cx="21.8" cy="3.4" rx="1.4" ry="1.8" fill="#2626e8"/><ellipse cx="28.3" cy="1.9" rx="1.2" ry="1.4" fill="#2626e8"/><ellipse cx="30.6" cy="17.6" rx="2.2" ry="1.8" fill="#2626e8"/><ellipse cx="15.9" cy="6.9" rx="1.3" ry="1.7" fill="#2626e8"/><ellipse cx="23.5" cy="8.6" rx="1.6" ry="1.4" fill="#2626e8"/><ellipse cx="23.7" cy="16.5" rx="2.1" ry="1.4" fill="#6838f0"/><ellipse cx="15.6" cy="20.0" rx="2.0" ry="1.6" fill="#2626e8"/><ellipse cx="17.2" cy="19.0" rx="1.2" ry="2.0" fill="#9a80f8"/><ellipse cx="19.3" cy="10.2" rx="1.3" ry="1.4" fill="#6838f0"/><ellipse cx="16.0" cy="1.5" rx="1.5" ry="1.2" fill="#40e4e8"/><ellipse cx="19.0" cy="5.0" rx="2.2" ry="1.5" fill="#40e4e8"/><ellipse cx="32.2" cy="16.7" rx="2.3" ry="1.8" fill="#9a80f8"/><ellipse cx="9.8" cy="16.2" rx="1.5" ry="1.5" fill="#2626e8"/><ellipse cx="28.0" cy="7.5" rx="1.5" ry="1.4" fill="#9a80f8"/><ellipse cx="24.6" cy="5.7" rx="1.7" ry="1.2" fill="#6838f0"/><ellipse cx="21.5" cy="21.4" rx="2.1" ry="1.8" fill="#2626e8"/><ellipse cx="14.8" cy="15.3" rx="2.3" ry="1.3" fill="#9a80f8"/><ellipse cx="34.6" cy="8.1" rx="2.1" ry="2.3" fill="#6838f0"/><ellipse cx="20.5" cy="13.1" rx="2.1" ry="1.4" fill="#2626e8"/><ellipse cx="27.0" cy="18.9" rx="2.0" ry="2.1" fill="#2626e8"/><ellipse cx="22.7" cy="10.2" rx="1.6" ry="1.7" fill="#40e4e8"/><ellipse cx="18.6" cy="3.2" rx="1.6" ry="2.2" fill="#6838f0"/><ellipse cx="34.5" cy="18.3" rx="1.6" ry="1.4" fill="#9a80f8"/><ellipse cx="33.8" cy="6.8" rx="1.9" ry="2.0" fill="#2626e8"/><ellipse cx="11.2" cy="5.2" rx="2.0" ry="1.9" fill="#2626e8"/><ellipse cx="15.6" cy="19.4" rx="2.0" ry="1.7" fill="#9a80f8"/><ellipse cx="16.2" cy="11.7" rx="1.7" ry="2.3" fill="#9a80f8"/><ellipse cx="17.2" cy="17.2" rx="1.5" ry="2.2" fill="#9a80f8"/><ellipse cx="26.4" cy="0.8" rx="1.5" ry="1.3" fill="#40e4e8"/><ellipse cx="9.0" cy="1.4" rx="1.2" ry="2.1" fill="#2626e8"/><ellipse cx="31.4" cy="20.8" rx="1.8" ry="2.1" fill="#40e4e8"/><ellipse cx="24.4" cy="3.7" rx="1.6" ry="1.2" fill="#40e4e8"/><ellipse cx="34.0" cy="21.8" rx="2.0" ry="1.2" fill="#9a80f8"/><ellipse cx="22.3" cy="14.9" rx="1.6" ry="2.0" fill="#6838f0"/><ellipse cx="11.0" cy="10.1" rx="1.3" ry="1.4" fill="#6838f0"/><ellipse cx="27.0" cy="15.0" rx="1.4" ry="1.9" fill="#6838f0"/><ellipse cx="33.5" cy="5.2" rx="1.7" ry="1.5" fill="#9a80f8"/><ellipse cx="19.9" cy="3.7" rx="2.1" ry="1.8" fill="#6838f0"/><ellipse cx="27.3" cy="19.7" rx="2.0" ry="2.1" fill="#6838f0"/><ellipse cx="14.4" cy="1.2" rx="2.2" ry="1.4" fill="#40e4e8"/><ellipse cx="29.7" cy="2.5" rx="2.2" ry="1.8" fill="#6838f0"/><ellipse cx="29.9" cy="14.7" rx="1.2" ry="1.7" fill="#2626e8"/><ellipse cx="15.4" cy="7.4" rx="2.1" ry="1.3" fill="#6838f0"/><ellipse cx="11.3" cy="10.7" rx="1.6" ry="1.4" fill="#6838f0"/><ellipse cx="11.4" cy="16.6" rx="1.8" ry="2.1" fill="#6838f0"/><ellipse cx="33.7" cy="15.2" rx="1.8" ry="2.1" fill="#6838f0"/><ellipse cx="24.4" cy="6.7" rx="1.1" ry="2.0" fill="#6838f0"/><ellipse cx="27.8" cy="6.1" rx="2.1" ry="1.2" fill="#40e4e8"/><ellipse cx="34.5" cy="11.7" rx="1.8" ry="1.7" fill="#2626e8"/><ellipse cx="18.8" cy="5.8" rx="1.5" ry="2.1" fill="#6838f0"/><ellipse cx="26.9" cy="20.6" rx="2.2" ry="2.1" fill="#9a80f8"/><ellipse cx="25.5" cy="11.9" rx="1.2" ry="1.2" fill="#6838f0"/><ellipse cx="21.1" cy="10.8" rx="1.1" ry="1.8" fill="#6838f0"/></g></g>
<path d="M15,16 Q22,13 29,16 L27,28 L23.5,37 L20.5,37 L17,28 Z" fill="#3a30e8"/>
<ellipse cx="21.4" cy="17.2" rx="1.3" ry="1.3" fill="#8070f0"/><ellipse cx="19.7" cy="16.3" rx="1.4" ry="1.2" fill="#8070f0"/><ellipse cx="21.4" cy="27.2" rx="0.9" ry="0.8" fill="#8070f0"/><ellipse cx="23.0" cy="21.0" rx="1.1" ry="1.2" fill="#40e4e8"/><ellipse cx="19.0" cy="22.5" rx="1.0" ry="1.4" fill="#40e4e8"/>
</g></g></g></g>
<line x1="264.4" y1="330.3" x2="264.4" y2="432.3" stroke="#000" stroke-width="1"/>
<line x1="264.4" y1="419.2" x2="516.6" y2="419.2" stroke="#000" stroke-width="1"/>
<text x="260.3" y="423.84999999999997" font-size="7.6" text-anchor="end" font-weight="normal" fill="#111" >0</text>
<text x="261.0" y="410.30999999999995" font-size="7.6" text-anchor="end" font-weight="normal" fill="#111" >0.2</text>
<text x="261.0" y="397.77" font-size="7.6" text-anchor="end" font-weight="normal" fill="#111" >0.4</text>
<text x="261.0" y="385.22999999999996" font-size="7.6" text-anchor="end" font-weight="normal" fill="#111" >0.6</text>
<text x="261.0" y="372.68999999999994" font-size="7.6" text-anchor="end" font-weight="normal" fill="#111" >0.8</text>
<text x="261.0" y="360.15" font-size="7.6" text-anchor="end" font-weight="normal" fill="#111" >1.0</text>
<text x="261.0" y="347.60999999999996" font-size="7.6" text-anchor="end" font-weight="normal" fill="#111" >1.2</text>
<text x="261.0" y="335.06999999999994" font-size="7.6" text-anchor="end" font-weight="normal" fill="#111" >1.4</text>
<line x1="275.25" y1="395.9" x2="275.25" y2="393.2" stroke="#000" stroke-width="0.9"/>
<line x1="272.85" y1="393.2" x2="277.65" y2="393.2" stroke="#000" stroke-width="1.1"/>
<rect x="271.25" y="396.34999999999997" width="8.00" height="22.40" fill="#fff" stroke="#000" stroke-width="0.9"/>
<line x1="294.45000000000005" y1="393.2" x2="294.45000000000005" y2="390.5" stroke="#000" stroke-width="0.9"/>
<line x1="292.05000000000007" y1="390.5" x2="296.85" y2="390.5" stroke="#000" stroke-width="1.1"/>
<rect x="290.05" y="393.65" width="8.80" height="25.10" fill="#fff" stroke="#000" stroke-width="0.9"/>
<line x1="316.15" y1="398.1" x2="316.15" y2="394.6" stroke="#000" stroke-width="0.9"/>
<line x1="313.75" y1="394.6" x2="318.54999999999995" y2="394.6" stroke="#000" stroke-width="1.1"/>
<rect x="312.15" y="398.55" width="8.00" height="20.20" fill="#fff" stroke="#000" stroke-width="0.9"/>
<line x1="336.1" y1="394.9" x2="336.1" y2="393.0" stroke="#000" stroke-width="0.9"/>
<line x1="333.70000000000005" y1="393.0" x2="338.5" y2="393.0" stroke="#000" stroke-width="1.1"/>
<rect x="331.84999999999997" y="395.34999999999997" width="8.50" height="23.40" fill="#fff" stroke="#000" stroke-width="0.9"/>
<line x1="358.0" y1="365.6" x2="358.0" y2="361.2" stroke="#102010" stroke-width="0.9"/>
<line x1="355.6" y1="361.2" x2="360.4" y2="361.2" stroke="#102010" stroke-width="1.1"/>
<rect x="353.55" y="366.15000000000003" width="8.90" height="52.50" fill="#1ec41e" stroke="#102010" stroke-width="1.1"/>
<line x1="378.29999999999995" y1="354.6" x2="378.29999999999995" y2="346.6" stroke="#102010" stroke-width="0.9"/>
<line x1="375.9" y1="346.6" x2="380.69999999999993" y2="346.6" stroke="#102010" stroke-width="1.1"/>
<rect x="373.95" y="355.15000000000003" width="8.70" height="63.50" fill="#1ec41e" stroke="#102010" stroke-width="1.1"/>
<line x1="400.95000000000005" y1="372.4" x2="400.95000000000005" y2="369.3" stroke="#000" stroke-width="0.9"/>
<line x1="398.55000000000007" y1="369.3" x2="403.35" y2="369.3" stroke="#000" stroke-width="1.1"/>
<rect x="396.55" y="372.84999999999997" width="8.80" height="45.90" fill="#fff" stroke="#000" stroke-width="0.9"/>
<line x1="421.0" y1="372.7" x2="421.0" y2="369.5" stroke="#000" stroke-width="0.9"/>
<line x1="418.6" y1="369.5" x2="423.4" y2="369.5" stroke="#000" stroke-width="1.1"/>
<rect x="416.65" y="373.15" width="8.70" height="45.60" fill="#fff" stroke="#000" stroke-width="0.9"/>
<line x1="441.85" y1="352.0" x2="441.85" y2="348.8" stroke="#102010" stroke-width="0.9"/>
<line x1="439.45000000000005" y1="348.8" x2="444.25" y2="348.8" stroke="#102010" stroke-width="1.1"/>
<rect x="436.75" y="352.55" width="10.20" height="66.10" fill="#1ec41e" stroke="#102010" stroke-width="1.1"/>
<line x1="463.05" y1="347.2" x2="463.05" y2="339.9" stroke="#102010" stroke-width="0.9"/>
<line x1="460.65000000000003" y1="339.9" x2="465.45" y2="339.9" stroke="#102010" stroke-width="1.1"/>
<rect x="458.55" y="347.75" width="9.00" height="70.90" fill="#1ec41e" stroke="#102010" stroke-width="1.1"/>
<line x1="484.5" y1="364.3" x2="484.5" y2="362.6" stroke="#000" stroke-width="0.9"/>
<line x1="482.1" y1="362.6" x2="486.9" y2="362.6" stroke="#000" stroke-width="1.1"/>
<rect x="479.95" y="364.75" width="9.10" height="54.00" fill="#fff" stroke="#000" stroke-width="0.9"/>
<line x1="504.75" y1="364.7" x2="504.75" y2="361.9" stroke="#000" stroke-width="0.9"/>
<line x1="502.35" y1="361.9" x2="507.15" y2="361.9" stroke="#000" stroke-width="1.1"/>
<rect x="500.34999999999997" y="365.15" width="8.80" height="53.60" fill="#fff" stroke="#000" stroke-width="0.9"/>
<circle cx="358.0" cy="355.0" r="1.75" fill="#666" filter="url(#blur03)"/>
<circle cx="378.3" cy="341.5" r="1.75" fill="#666" filter="url(#blur03)"/>
<circle cx="441.9" cy="342.3" r="1.75" fill="#666" filter="url(#blur03)"/>
<circle cx="462.2" cy="334.2" r="1.75" fill="#666" filter="url(#blur03)"/>
<line x1="348.8" y1="419.2" x2="348.8" y2="431.5" stroke="#000" stroke-width="0.9"/>
<line x1="432.0" y1="419.2" x2="432.0" y2="431.5" stroke="#000" stroke-width="0.9"/>
<line x1="516.2" y1="419.2" x2="516.2" y2="431.5" stroke="#000" stroke-width="0.9"/>
<text x="274.5" y="430.0" font-size="7.8" text-anchor="middle" font-weight="normal" fill="#111" textLength="16.5" lengthAdjust="spacingAndGlyphs">CMP</text>
<text x="295.6" y="430.0" font-size="7.8" text-anchor="middle" font-weight="normal" fill="#111" textLength="16.5" lengthAdjust="spacingAndGlyphs">GMP</text>
<text x="317.5" y="430.0" font-size="7.8" text-anchor="middle" font-weight="normal" fill="#111" textLength="16.5" lengthAdjust="spacingAndGlyphs">HSC</text>
<text x="337.2" y="430.0" font-size="7.8" text-anchor="middle" font-weight="normal" fill="#111" textLength="16.5" lengthAdjust="spacingAndGlyphs">MEP</text>
<text x="357.9" y="430.0" font-size="7.8" text-anchor="middle" font-weight="normal" fill="#111" textLength="16.5" lengthAdjust="spacingAndGlyphs">CMP</text>
<text x="379.1" y="430.0" font-size="7.8" text-anchor="middle" font-weight="normal" fill="#111" textLength="16.5" lengthAdjust="spacingAndGlyphs">GMP</text>
<text x="401.0" y="430.0" font-size="7.8" text-anchor="middle" font-weight="normal" fill="#111" textLength="16.5" lengthAdjust="spacingAndGlyphs">HSC</text>
<text x="421.3" y="430.0" font-size="7.8" text-anchor="middle" font-weight="normal" fill="#111" textLength="16.5" lengthAdjust="spacingAndGlyphs">MEP</text>
<text x="442.8" y="430.0" font-size="7.8" text-anchor="middle" font-weight="normal" fill="#111" textLength="16.5" lengthAdjust="spacingAndGlyphs">CMP</text>
<text x="463.6" y="430.0" font-size="7.8" text-anchor="middle" font-weight="normal" fill="#111" textLength="16.5" lengthAdjust="spacingAndGlyphs">GMP</text>
<text x="484.5" y="430.0" font-size="7.8" text-anchor="middle" font-weight="normal" fill="#111" textLength="16.5" lengthAdjust="spacingAndGlyphs">HSC</text>
<text x="506.1" y="430.0" font-size="7.8" text-anchor="middle" font-weight="normal" fill="#111" textLength="16.5" lengthAdjust="spacingAndGlyphs">MEP</text>
<text x="248.6" y="431.6" font-size="10" text-anchor="middle" font-weight="normal" fill="#111" >PACs</text>
<line x1="267.5" y1="435.3" x2="345.0" y2="435.3" stroke="#000" stroke-width="1"/>
<line x1="352.3" y1="435.3" x2="430.5" y2="435.3" stroke="#000" stroke-width="1"/>
<line x1="435.2" y1="435.3" x2="517.0" y2="435.3" stroke="#000" stroke-width="1"/>
<text x="308.4" y="448.6" font-size="10" text-anchor="middle" font-weight="normal" fill="#111" >Day #3</text>
<text x="389.5" y="448.6" font-size="10" text-anchor="middle" font-weight="normal" fill="#111" >Day #7</text>
<text x="476.7" y="448.6" font-size="10" text-anchor="middle" font-weight="normal" fill="#111" >Day #14</text>
<text x="386.2" y="330.9" font-size="10.1" text-anchor="middle" font-weight="normal" fill="#111" >Hindlimb Ischemia</text>
<text transform="translate(243.2,370.9) rotate(-90)" font-size="9.35" text-anchor="middle" fill="#111">Mean Blood Flow (R/L)</text>
</svg>
</body></html>
